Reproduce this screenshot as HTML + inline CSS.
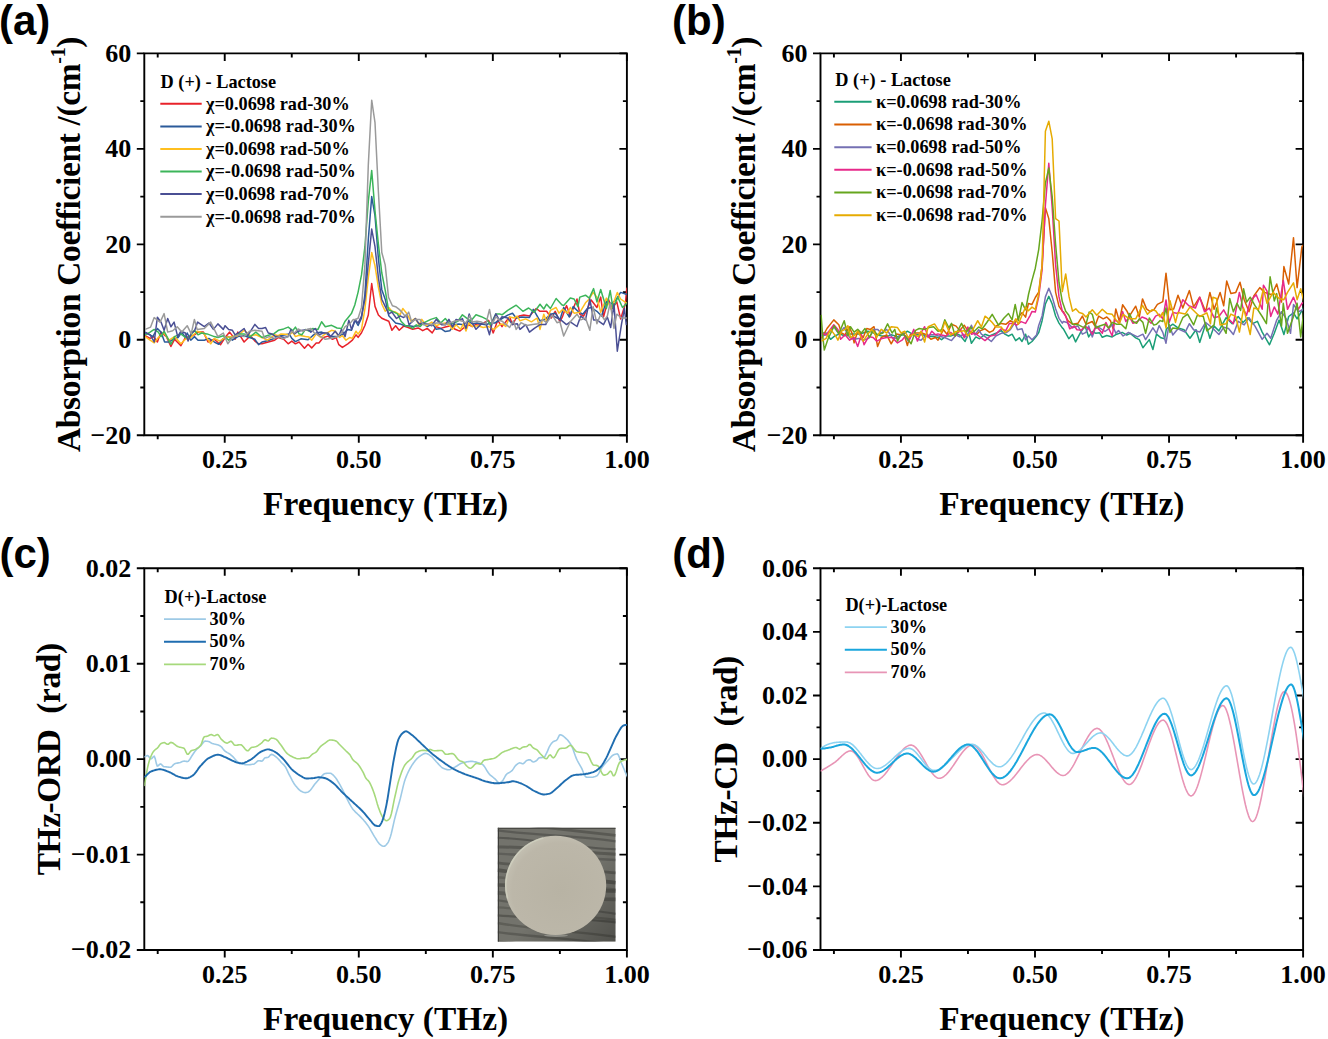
<!DOCTYPE html>
<html><head><meta charset="utf-8"><style>
html,body{margin:0;padding:0;background:#fff;}
svg{display:block;}
.tk{font-family:'Liberation Serif', serif;font-weight:bold;font-size:26px;fill:#000;}
.ttl{font-family:'Liberation Serif', serif;font-weight:bold;font-size:33.4px;fill:#000;white-space:pre;}
.lg{font-family:'Liberation Serif', serif;font-weight:bold;font-size:18.3px;fill:#000;white-space:pre;}
.pl{font-family:'Liberation Sans', sans-serif;font-weight:bold;font-size:42px;fill:#000;}
</style></head><body>
<svg width="1328" height="1039" viewBox="0 0 1328 1039">
<rect width="1328" height="1039" fill="#fff"/>
<defs>
<clipPath id="clipa"><rect x="144.3" y="53.4" width="482.59999999999997" height="381.90000000000003"/></clipPath>
<clipPath id="clipb"><rect x="820.5" y="53.4" width="482.5999999999999" height="381.90000000000003"/></clipPath>
<clipPath id="clipc"><rect x="144.3" y="568.3" width="482.59999999999997" height="381.70000000000005"/></clipPath>
<clipPath id="clipd"><rect x="820.5" y="568.3" width="482.5999999999999" height="381.70000000000005"/></clipPath>
</defs>
<text x="-1" y="35" class="pl">(a)</text>
<text x="672" y="35" class="pl">(b)</text>
<text x="-0.5" y="568" class="pl">(c)</text>
<text x="672.3" y="567.5" class="pl">(d)</text>
<path d="M144.3,53.4 H626.9 V435.3 H144.3 Z" fill="none" stroke="#000" stroke-width="1.9" stroke-linejoin="miter"/>
<path d="M157.71,435.3 v4.0 M157.71,53.4 v4.0 M224.73,435.3 v7.5 M224.73,53.4 v7.5 M291.76,435.3 v4.0 M291.76,53.4 v4.0 M358.79,435.3 v7.5 M358.79,53.4 v7.5 M425.82,435.3 v4.0 M425.82,53.4 v4.0 M492.84,435.3 v7.5 M492.84,53.4 v7.5 M559.87,435.3 v4.0 M559.87,53.4 v4.0 M626.90,435.3 v7.5 M626.90,53.4 v7.5 M144.3,53.40 h-7.5 M626.9,53.40 h-7.5 M144.3,148.88 h-7.5 M626.9,148.88 h-7.5 M144.3,244.35 h-7.5 M626.9,244.35 h-7.5 M144.3,339.82 h-7.5 M626.9,339.82 h-7.5 M144.3,435.30 h-7.5 M626.9,435.30 h-7.5 M144.3,101.14 h-4.0 M626.9,101.14 h-4.0 M144.3,196.61 h-4.0 M626.9,196.61 h-4.0 M144.3,292.09 h-4.0 M626.9,292.09 h-4.0 M144.3,387.56 h-4.0 M626.9,387.56 h-4.0" fill="none" stroke="#000" stroke-width="1.9"/>
<text x="131.3" y="61.7" text-anchor="end" class="tk">60</text>
<text x="131.3" y="157.2" text-anchor="end" class="tk">40</text>
<text x="131.3" y="252.7" text-anchor="end" class="tk">20</text>
<text x="131.3" y="348.1" text-anchor="end" class="tk">0</text>
<text x="131.3" y="443.6" text-anchor="end" class="tk">−20</text>
<text x="224.7" y="468.1" text-anchor="middle" class="tk">0.25</text>
<text x="358.8" y="468.1" text-anchor="middle" class="tk">0.50</text>
<text x="492.8" y="468.1" text-anchor="middle" class="tk">0.75</text>
<text x="626.9" y="468.1" text-anchor="middle" class="tk">1.00</text>
<text x="385.6" y="515.1" text-anchor="middle" class="ttl">Frequency (THz)</text>
<text transform="translate(79.6,244.3) rotate(-90)" x="0" y="0" text-anchor="middle" class="ttl" textLength="415.5" lengthAdjust="spacing">Absorption Coefficient /(cm<tspan font-size="20" dy="-14.5">-1</tspan><tspan dy="14.5">)</tspan></text>
<polyline points="145.2,335.7 150.1,338.4 153.7,336.6 157.4,342.0 161.0,332.1 166.4,336.6 170.9,346.5 174.5,339.3 180.9,345.6 185.4,337.5 189.9,336.6 194.4,334.8 198.0,332.1 203.4,332.1 208.0,342.0 214.3,339.3 220.6,344.7 225.1,337.5 229.6,332.1 235.1,339.3 237.8,332.1 244.1,342.0 250.4,335.7 254.9,341.1 258.6,343.8 262.0,343.8 268.3,342.0 274.7,340.2 278.3,337.5 283.7,339.3 288.2,343.8 291.8,341.1 295.4,343.8 299.1,342.0 304.5,348.3 308.1,344.3 311.7,347.9 316.2,342.9 318.9,342.9 323.4,337.5 328.0,336.1 332.5,339.3 336.1,337.5 338.8,344.7 342.4,347.4 347.8,343.8 352.4,340.2 356.0,334.8 358.1,337.4 361.5,332.7 364.9,325.5 368.3,315.0 371.7,283.5 375.0,306.4 378.4,315.0 381.8,318.3 385.2,319.8 388.8,321.2 391.9,330.2 395.6,325.7 399.2,330.2 403.7,326.1 408.2,327.5 412.7,329.3 418.2,327.9 422.7,330.7 427.2,328.4 432.2,332.9 436.2,326.6 440.7,328.4 445.3,327.0 450.7,325.7 455.2,329.3 459.7,331.1 464.2,327.5 468.8,324.8 472.4,326.6 476.9,323.9 481.4,323.9 488.6,320.3 493.2,332.9 497.7,320.3 502.0,326.6 505.8,321.8 509.6,317.0 512.5,324.6 516.2,318.0 519.1,316.1 523.8,315.1 529.5,316.1 536.2,308.5 540.0,311.3 546.6,311.3 551.4,318.0 555.2,311.3 559.9,321.8 562.7,316.1 566.5,305.6 570.3,316.1 577.0,299.0 579.8,314.2 583.6,316.1 587.4,308.5 591.2,300.0 596.9,307.5 600.7,297.1 603.5,317.0 608.3,299.0 612.1,308.5 616.8,301.9 620.6,318.9 625.4,303.8 626.8,288.6 628.7,285.7" fill="none" stroke="#e8222a" stroke-width="1.5" stroke-linejoin="round" clip-path="url(#clipa)"/>
<polyline points="145.2,333.0 150.1,334.8 152.8,336.6 157.4,328.5 161.0,332.1 164.6,342.0 169.1,342.0 172.7,339.3 178.1,337.5 181.8,332.1 185.4,337.5 187.2,333.0 190.8,340.2 194.4,336.6 198.0,340.2 204.3,340.2 208.9,338.4 214.3,342.0 218.8,344.3 223.3,338.4 228.7,336.6 232.4,340.2 237.8,336.6 244.1,335.7 249.5,337.5 254.9,339.3 258.6,344.7 262.0,342.0 267.4,340.7 274.7,338.4 280.1,335.7 285.5,334.8 289.1,333.9 291.8,338.4 295.4,341.6 300.9,338.8 308.1,339.7 312.6,335.7 316.2,333.0 321.6,332.1 327.1,333.9 330.7,336.6 334.3,336.6 337.9,336.6 343.3,333.9 347.8,329.4 351.5,330.3 355.1,320.3 358.1,325.5 361.5,318.3 364.9,294.5 368.3,239.6 371.7,196.6 375.0,215.7 378.4,258.7 381.8,289.7 385.2,299.2 388.8,315.8 395.6,323.0 400.1,323.9 404.6,325.7 409.1,325.7 413.6,326.6 418.2,325.7 422.7,323.0 427.2,326.6 432.6,323.9 436.2,329.3 440.7,328.4 445.3,331.6 449.8,330.7 454.3,324.8 458.8,323.9 463.3,324.8 467.9,321.2 472.4,323.9 476.9,323.0 481.4,323.9 485.9,324.8 490.4,323.0 495.0,323.0 502.0,318.5 507.7,315.1 512.5,313.2 516.2,318.0 521.9,317.0 529.5,317.5 533.3,309.4 540.0,320.8 545.7,318.9 550.4,314.2 555.2,313.2 559.9,319.9 563.7,307.5 569.4,317.0 573.2,306.6 577.9,311.3 582.7,314.2 587.4,308.5 591.2,307.5 596.9,311.3 601.6,316.1 606.4,300.9 611.1,303.8 615.9,300.0 620.6,292.4 626.3,294.3 628.7,294.3" fill="none" stroke="#2b5a9a" stroke-width="1.5" stroke-linejoin="round" clip-path="url(#clipa)"/>
<polyline points="145.2,336.6 150.1,340.2 154.2,342.9 158.3,337.5 164.1,333.0 169.1,340.2 174.5,336.6 180.9,343.8 185.4,339.3 190.8,337.5 197.1,331.2 203.4,333.0 210.7,343.8 214.3,338.4 219.7,341.1 225.1,337.5 232.4,336.6 237.8,335.7 244.1,330.3 250.4,335.7 255.9,334.8 262.0,337.5 267.4,340.2 274.7,334.8 278.3,335.7 281.0,333.9 285.5,334.3 289.1,334.8 292.7,332.1 295.4,336.6 299.1,335.2 305.4,336.6 309.0,337.0 311.7,340.2 316.2,333.9 320.7,337.5 325.3,333.9 331.6,330.3 335.2,331.2 339.7,337.5 342.4,335.7 346.0,340.2 349.7,337.5 352.4,338.4 356.0,331.2 358.1,334.1 361.5,329.3 364.9,308.8 368.3,277.8 371.7,252.5 375.0,265.8 378.4,287.3 381.8,304.0 385.2,311.2 388.8,307.6 391.9,311.2 395.6,312.1 400.1,314.8 402.8,308.5 406.4,313.0 410.9,321.2 415.4,318.5 419.1,324.8 421.8,319.4 426.3,325.7 431.7,322.1 436.2,325.7 440.7,323.9 445.3,323.0 449.8,325.7 452.5,329.3 456.1,324.8 460.6,329.3 463.3,323.9 466.0,331.1 468.8,323.0 472.4,326.6 477.8,325.7 483.2,327.5 488.6,326.6 494.1,329.3 499.5,324.8 502.0,323.9 505.8,326.5 509.6,317.0 514.3,318.0 517.2,316.1 520.0,320.8 525.7,318.9 531.4,321.8 537.1,318.0 540.0,329.4 543.8,314.2 546.6,321.8 550.4,310.4 556.1,307.5 558.9,313.2 562.7,309.4 567.5,313.2 570.3,307.5 574.1,313.2 579.8,312.3 585.5,302.8 589.3,299.0 593.1,292.4 596.9,297.1 600.7,312.3 606.4,298.1 611.1,309.4 617.3,292.4 620.6,299.0 626.3,302.8 628.7,303.8" fill="none" stroke="#ffbf1f" stroke-width="1.5" stroke-linejoin="round" clip-path="url(#clipa)"/>
<polyline points="145.2,334.8 150.1,332.1 154.2,329.4 158.3,332.1 161.0,336.6 164.1,331.2 170.9,344.3 174.5,336.6 180.9,333.9 185.4,337.5 189.0,337.5 194.4,330.3 198.0,334.8 201.6,333.0 207.1,333.9 214.3,336.6 217.9,337.5 223.3,335.7 228.7,340.2 232.4,337.5 237.8,333.9 244.1,333.9 250.4,336.6 255.9,332.1 262.0,337.5 268.3,335.2 273.7,333.9 278.3,330.3 283.7,328.9 288.2,327.1 292.7,330.7 295.4,327.1 299.1,333.9 301.8,334.8 305.4,329.4 309.0,331.2 312.6,328.5 318.0,329.4 321.6,321.7 325.3,326.7 331.6,325.3 337.0,328.0 341.5,328.5 345.1,321.2 348.8,316.7 351.4,313.6 354.8,305.0 358.1,292.1 361.5,274.9 364.9,246.7 368.3,201.4 371.7,170.4 375.0,210.9 378.4,244.3 381.8,273.0 385.2,290.2 388.5,309.8 391.9,311.2 397.4,313.9 401.0,321.2 405.5,325.7 409.1,326.1 412.7,328.4 416.3,324.8 420.0,326.6 423.6,323.0 427.2,321.2 430.8,319.4 436.2,317.6 440.7,323.0 445.3,318.5 449.8,323.9 454.3,323.0 457.9,321.2 462.4,314.8 466.0,317.6 470.6,321.2 476.0,314.8 481.4,316.7 486.8,319.4 490.4,324.8 495.9,313.9 499.5,313.9 502.0,314.8 507.7,310.4 516.2,305.2 522.9,311.3 528.6,308.0 534.3,312.3 540.0,304.2 543.8,309.0 546.6,304.2 550.4,308.5 556.1,298.5 561.8,304.7 563.7,305.6 570.3,298.1 574.1,299.0 577.9,306.6 579.8,297.1 585.5,295.2 589.3,298.1 593.6,288.6 596.9,301.9 600.7,289.5 606.4,308.5 610.2,290.5 613.0,308.5 617.8,297.1 622.5,307.5 626.3,303.8 628.7,301.9" fill="none" stroke="#3cb55a" stroke-width="1.5" stroke-linejoin="round" clip-path="url(#clipa)"/>
<polyline points="145.2,332.1 150.1,334.8 154.2,342.0 157.4,317.2 161.0,322.1 164.1,330.3 167.7,318.5 170.9,326.7 174.1,322.1 177.7,336.6 180.9,331.2 185.4,333.0 188.1,341.1 191.2,333.0 194.4,331.2 197.6,322.1 204.3,326.7 208.9,323.0 213.4,329.4 217.9,323.9 223.3,329.4 225.1,325.7 228.7,329.4 232.4,330.3 235.1,334.8 239.6,332.1 244.1,328.5 247.7,335.7 254.9,324.4 258.6,328.5 262.0,328.5 265.6,327.6 268.3,333.0 271.9,333.9 275.6,336.6 280.1,336.6 284.6,337.5 288.2,336.6 290.9,329.4 294.5,333.9 298.1,331.2 302.7,330.3 308.1,329.4 310.8,332.1 315.3,328.5 318.9,334.8 323.4,333.0 328.0,333.0 330.7,336.6 335.2,331.2 338.8,335.7 341.5,329.4 345.1,336.6 348.8,320.3 351.5,329.4 355.1,319.4 358.1,323.1 361.5,316.0 364.9,299.2 368.3,263.4 371.7,229.1 375.0,246.7 378.4,277.8 381.8,299.2 385.2,306.4 388.8,313.9 391.9,312.1 396.5,318.5 400.1,315.8 403.7,317.6 406.4,314.8 409.1,324.8 415.4,318.5 419.1,323.9 422.7,323.0 427.2,323.9 431.7,325.7 436.2,319.4 441.6,324.8 445.3,324.8 448.9,319.4 452.5,326.6 456.1,319.4 459.7,320.3 462.4,318.5 466.0,328.4 469.2,313.9 472.4,323.0 476.0,329.3 481.4,323.9 485.9,323.0 489.5,334.7 492.3,322.1 495.9,313.9 499.5,320.3 502.0,316.7 507.7,318.0 512.5,324.6 517.2,323.7 520.0,329.4 525.7,324.6 529.5,332.2 534.3,328.4 540.0,324.6 545.7,324.6 550.4,314.2 555.2,317.0 560.8,319.9 566.5,324.6 570.3,321.8 577.0,326.5 580.8,316.1 585.5,319.9 589.8,299.0 593.6,319.9 596.9,319.9 603.5,324.6 607.3,317.0 610.7,327.5 614.0,303.8 617.3,351.2 621.6,323.7 624.4,308.5 626.3,324.6 628.7,319.9" fill="none" stroke="#4a4f94" stroke-width="1.5" stroke-linejoin="round" clip-path="url(#clipa)"/>
<polyline points="145.2,329.4 150.6,327.1 154.2,317.6 160.1,322.1 164.1,313.6 167.7,332.1 172.7,330.7 177.2,326.7 181.8,332.1 187.2,325.7 191.2,333.9 194.4,319.4 197.1,329.4 204.3,328.5 210.7,322.1 214.3,329.4 217.9,336.6 223.3,333.0 227.8,343.8 232.4,337.5 237.8,334.8 244.1,336.6 249.5,331.2 254.9,330.3 262.0,331.2 264.7,338.4 269.2,336.6 274.7,338.4 279.2,336.6 282.8,338.8 288.2,336.6 291.8,331.2 294.5,333.0 298.1,328.9 302.7,331.2 307.2,329.4 310.8,328.5 314.4,333.0 318.0,334.8 325.3,339.3 329.8,338.4 334.3,337.5 337.9,336.6 341.5,333.0 345.1,326.7 349.7,323.9 353.3,319.4 354.8,319.7 358.1,318.3 361.5,307.4 364.9,264.9 368.3,165.1 371.7,100.2 375.0,122.6 378.4,191.8 381.8,252.5 385.2,264.9 388.5,297.3 392.4,305.8 395.6,306.7 399.2,309.4 401.9,312.1 405.5,316.7 408.7,312.1 411.8,322.1 415.4,319.4 420.0,319.4 423.6,324.8 427.2,323.9 431.7,324.8 436.2,323.0 440.7,323.0 445.3,324.8 449.8,323.0 454.3,321.2 458.8,320.3 462.4,321.2 466.0,323.0 469.7,315.8 472.4,322.1 476.9,321.2 481.4,322.1 485.9,323.9 489.5,309.4 492.3,323.9 495.9,316.7 499.5,320.3 502.0,321.2 509.6,327.5 513.4,320.8 516.2,329.4 521.0,322.7 526.7,325.6 532.4,324.6 538.1,323.7 542.8,319.9 546.6,322.7 552.3,315.1 557.0,322.7 559.9,321.8 563.7,336.0 570.3,321.8 577.0,314.2 580.8,319.9 585.5,318.0 589.8,330.3 593.1,306.6 596.9,323.7 600.7,314.2 604.5,319.9 607.3,316.1 610.2,302.8 614.0,328.4 616.8,314.2 621.6,318.0 626.3,318.0 628.7,318.0" fill="none" stroke="#9a9a9a" stroke-width="1.5" stroke-linejoin="round" clip-path="url(#clipa)"/>
<text x="160.6" y="87.5" class="lg">D (+) - Lactose</text>
<line x1="160.3" y1="103.8" x2="201.7" y2="103.8" stroke="#e8222a" stroke-width="2"/>
<text x="206.0" y="109.7" class="lg">χ=0.0698 rad-30%</text>
<line x1="160.3" y1="126.4" x2="201.7" y2="126.4" stroke="#2b5a9a" stroke-width="2"/>
<text x="206.0" y="132.3" class="lg">χ=-0.0698 rad-30%</text>
<line x1="160.3" y1="149.0" x2="201.7" y2="149.0" stroke="#ffbf1f" stroke-width="2"/>
<text x="206.0" y="154.9" class="lg">χ=0.0698 rad-50%</text>
<line x1="160.3" y1="171.5" x2="201.7" y2="171.5" stroke="#3cb55a" stroke-width="2"/>
<text x="206.0" y="177.4" class="lg">χ=-0.0698 rad-50%</text>
<line x1="160.3" y1="194.1" x2="201.7" y2="194.1" stroke="#4a4f94" stroke-width="2"/>
<text x="206.0" y="200.0" class="lg">χ=0.0698 rad-70%</text>
<line x1="160.3" y1="216.7" x2="201.7" y2="216.7" stroke="#9a9a9a" stroke-width="2"/>
<text x="206.0" y="222.6" class="lg">χ=-0.0698 rad-70%</text>
<path d="M820.5,53.4 H1303.1 V435.3 H820.5 Z" fill="none" stroke="#000" stroke-width="1.9" stroke-linejoin="miter"/>
<path d="M833.91,435.3 v4.0 M833.91,53.4 v4.0 M900.93,435.3 v7.5 M900.93,53.4 v7.5 M967.96,435.3 v4.0 M967.96,53.4 v4.0 M1034.99,435.3 v7.5 M1034.99,53.4 v7.5 M1102.02,435.3 v4.0 M1102.02,53.4 v4.0 M1169.04,435.3 v7.5 M1169.04,53.4 v7.5 M1236.07,435.3 v4.0 M1236.07,53.4 v4.0 M1303.10,435.3 v7.5 M1303.10,53.4 v7.5 M820.5,53.40 h-7.5 M1303.1,53.40 h-7.5 M820.5,148.88 h-7.5 M1303.1,148.88 h-7.5 M820.5,244.35 h-7.5 M1303.1,244.35 h-7.5 M820.5,339.82 h-7.5 M1303.1,339.82 h-7.5 M820.5,435.30 h-7.5 M1303.1,435.30 h-7.5 M820.5,101.14 h-4.0 M1303.1,101.14 h-4.0 M820.5,196.61 h-4.0 M1303.1,196.61 h-4.0 M820.5,292.09 h-4.0 M1303.1,292.09 h-4.0 M820.5,387.56 h-4.0 M1303.1,387.56 h-4.0" fill="none" stroke="#000" stroke-width="1.9"/>
<text x="807.5" y="61.7" text-anchor="end" class="tk">60</text>
<text x="807.5" y="157.2" text-anchor="end" class="tk">40</text>
<text x="807.5" y="252.7" text-anchor="end" class="tk">20</text>
<text x="807.5" y="348.1" text-anchor="end" class="tk">0</text>
<text x="807.5" y="443.6" text-anchor="end" class="tk">−20</text>
<text x="900.9" y="468.1" text-anchor="middle" class="tk">0.25</text>
<text x="1035.0" y="468.1" text-anchor="middle" class="tk">0.50</text>
<text x="1169.0" y="468.1" text-anchor="middle" class="tk">0.75</text>
<text x="1303.1" y="468.1" text-anchor="middle" class="tk">1.00</text>
<text x="1061.8" y="515.1" text-anchor="middle" class="ttl">Frequency (THz)</text>
<text transform="translate(755.3,244.3) rotate(-90)" x="0" y="0" text-anchor="middle" class="ttl" textLength="415.5" lengthAdjust="spacing">Absorption Coefficient /(cm<tspan font-size="20" dy="-14.5">-1</tspan><tspan dy="14.5">)</tspan></text>
<polyline points="821.6,333.0 826.1,333.0 830.6,339.3 835.1,335.7 839.7,333.9 844.2,335.7 849.6,333.9 854.1,333.9 858.6,333.9 863.2,333.0 867.7,331.2 872.2,332.1 876.7,334.8 881.2,335.7 886.7,336.6 891.2,334.8 897.5,336.6 902.9,334.8 907.4,331.2 912.0,333.9 917.4,334.8 922.8,334.8 928.2,336.6 933.6,336.6 938.0,337.5 941.6,339.7 946.1,336.0 950.6,336.0 955.2,334.2 959.7,335.1 965.1,341.5 968.7,332.4 971.4,343.3 975.9,336.9 979.6,338.8 985.0,334.2 989.5,336.0 995.8,333.3 1001.2,330.6 1004.9,334.2 1008.5,336.0 1012.1,334.2 1015.7,340.6 1019.3,337.8 1022.0,341.5 1025.6,334.2 1028.4,344.2 1032.0,341.5 1036.5,336.0 1038.7,332.7 1042.1,320.7 1045.4,304.0 1048.8,296.4 1052.2,304.0 1055.6,316.0 1059.0,323.1 1062.3,327.9 1063.4,328.8 1068.8,338.7 1072.5,334.6 1075.6,341.9 1080.6,332.4 1085.1,326.0 1088.7,336.9 1092.3,331.5 1095.9,333.3 1099.6,332.8 1102.3,337.3 1106.8,335.5 1112.2,336.9 1116.7,334.2 1122.2,332.4 1126.7,335.1 1130.3,333.3 1135.7,337.8 1139.3,339.6 1142.9,347.7 1149.3,339.6 1152.9,349.5 1156.5,334.2 1161.0,337.8 1164.6,338.7 1166.4,328.8 1172.8,324.2 1178.0,327.9 1184.0,329.7 1190.0,338.2 1196.0,329.7 1199.7,342.4 1205.7,323.7 1209.9,338.2 1214.1,326.1 1218.9,330.9 1226.1,317.7 1232.2,323.7 1238.2,316.5 1243.0,322.5 1247.8,317.7 1252.6,323.7 1257.4,321.3 1262.2,332.1 1269.5,344.8 1274.3,333.3 1279.1,320.1 1283.9,334.5 1288.7,316.5 1293.5,312.9 1297.1,318.9 1304.0,306.9 1305.6,305.7" fill="none" stroke="#1b9e77" stroke-width="1.5" stroke-linejoin="round" clip-path="url(#clipb)"/>
<polyline points="821.6,338.4 827.0,328.5 833.8,319.9 838.8,324.8 841.5,333.0 845.1,334.8 849.2,326.7 852.3,333.9 854.1,342.9 857.7,331.2 863.2,337.5 866.8,328.5 870.4,329.4 874.0,326.7 877.6,346.5 881.2,337.5 886.7,334.8 891.2,343.8 896.6,333.9 900.2,334.8 903.8,333.0 907.4,345.6 910.2,334.8 914.7,333.0 918.3,333.0 921.9,333.0 926.4,334.8 930.9,339.3 935.5,337.5 938.0,340.2 943.4,329.7 947.0,334.2 951.5,324.3 956.1,326.1 959.7,330.6 964.2,325.2 967.8,330.6 972.3,332.4 976.8,334.2 980.5,330.6 985.0,328.8 989.5,332.4 993.1,330.6 995.8,326.1 1001.2,323.4 1005.8,324.3 1010.3,320.7 1014.8,323.4 1018.4,317.1 1022.0,312.6 1025.6,317.1 1028.4,303.5 1032.0,304.4 1035.3,297.5 1038.7,292.1 1042.1,265.4 1045.4,207.6 1048.8,218.6 1052.2,252.0 1055.6,292.1 1059.0,306.4 1062.3,311.2 1063.4,311.6 1067.9,320.6 1072.5,324.2 1077.9,323.3 1082.4,316.1 1086.0,324.2 1092.3,321.5 1095.0,326.0 1098.7,316.1 1103.2,318.8 1106.8,317.0 1110.4,320.6 1113.1,328.8 1115.8,308.9 1119.4,321.5 1122.6,304.8 1126.7,310.7 1129.4,316.1 1135.7,306.2 1139.3,317.0 1142.5,298.9 1146.5,308.9 1150.2,311.6 1153.8,309.8 1157.4,304.4 1162.8,301.7 1166.0,273.2 1170.0,309.8 1173.7,308.9 1178.0,295.3 1182.8,308.1 1189.4,290.6 1193.6,306.9 1199.7,297.2 1205.7,311.7 1209.9,292.4 1214.1,309.3 1220.1,292.4 1223.7,305.7 1226.7,281.0 1230.9,293.6 1235.8,292.4 1240.0,282.2 1244.2,299.7 1249.0,311.7 1253.8,296.0 1259.8,287.6 1264.6,292.4 1271.9,294.8 1276.7,284.0 1281.5,302.1 1283.9,266.6 1288.7,284.0 1293.5,237.7 1297.1,287.6 1301.9,246.7 1305.6,243.1" fill="none" stroke="#d95f02" stroke-width="1.5" stroke-linejoin="round" clip-path="url(#clipb)"/>
<polyline points="821.6,335.7 827.0,334.8 833.8,326.7 838.8,333.9 844.2,327.6 849.6,337.5 854.1,339.3 858.6,338.4 863.2,340.2 868.6,338.4 874.0,329.4 877.6,329.4 881.2,333.0 886.7,329.4 892.1,337.5 897.5,338.4 902.9,333.0 908.3,341.1 912.9,333.0 917.4,339.3 921.0,340.2 925.5,335.7 930.9,334.8 935.5,334.8 938.0,335.7 945.2,337.8 951.5,340.6 956.1,335.1 959.7,336.9 963.3,334.2 966.9,337.8 971.4,325.2 975.0,335.1 978.7,329.7 981.4,334.2 986.8,337.8 991.3,341.5 995.8,336.0 1001.2,333.3 1006.7,332.4 1010.3,329.7 1014.8,322.5 1017.5,329.7 1022.0,328.8 1025.6,339.7 1028.4,336.0 1032.0,339.7 1036.5,335.1 1038.7,325.5 1042.1,316.0 1045.4,296.9 1048.8,288.3 1052.2,296.9 1055.6,308.8 1059.0,318.3 1062.3,323.1 1063.4,321.5 1067.0,322.4 1072.5,327.9 1077.9,326.0 1082.4,334.2 1086.0,332.4 1088.7,326.0 1092.3,336.9 1095.9,326.0 1099.6,327.9 1105.0,331.5 1108.6,328.8 1112.2,324.2 1115.8,333.3 1118.5,330.6 1123.1,336.0 1128.5,332.4 1133.9,335.1 1137.5,336.9 1142.9,334.2 1145.6,339.6 1152.9,327.9 1156.5,333.3 1159.2,325.6 1162.8,332.4 1166.0,343.2 1169.1,324.2 1172.8,335.1 1178.0,328.8 1185.2,332.1 1189.4,323.7 1193.6,329.7 1199.7,332.1 1205.7,322.5 1211.7,327.3 1218.9,334.5 1223.7,327.3 1228.5,328.5 1233.4,334.5 1238.2,321.3 1244.2,324.9 1249.0,317.7 1255.0,326.1 1262.2,339.4 1267.0,333.3 1270.7,338.2 1276.7,320.1 1281.5,311.7 1286.3,318.9 1290.5,333.3 1293.5,304.5 1298.3,311.7 1304.0,309.3 1305.6,308.1" fill="none" stroke="#7570b3" stroke-width="1.5" stroke-linejoin="round" clip-path="url(#clipb)"/>
<polyline points="821.6,333.0 826.1,334.8 829.7,330.3 833.8,324.8 837.9,329.4 840.6,339.3 845.1,334.8 849.6,340.2 854.1,337.5 857.7,346.5 861.4,334.8 864.1,344.7 868.6,336.6 873.1,337.5 876.7,341.1 882.1,338.4 886.7,337.5 892.1,337.5 897.5,342.9 902.0,340.2 905.6,335.7 909.2,340.2 913.8,329.4 917.4,341.1 921.0,333.0 924.6,326.7 928.2,337.5 931.8,331.2 935.5,334.8 938.0,333.9 941.6,335.1 946.1,336.0 950.6,332.4 955.2,336.0 960.6,329.7 964.2,337.8 967.8,327.0 971.4,334.2 975.0,333.3 978.7,336.0 985.0,340.6 990.4,336.0 994.9,335.1 1001.2,328.8 1005.8,330.6 1009.4,323.4 1013.9,323.4 1016.6,325.2 1021.1,321.6 1025.6,323.4 1030.2,315.3 1031.9,311.6 1035.3,312.0 1038.7,296.9 1042.1,269.7 1045.4,205.2 1048.8,163.2 1052.2,207.6 1055.6,264.9 1059.0,296.9 1062.3,311.2 1065.7,316.0 1069.7,328.8 1074.3,326.0 1077.0,329.7 1081.5,330.1 1085.1,326.0 1088.7,328.8 1092.3,334.2 1095.0,327.9 1097.8,327.9 1102.3,333.3 1105.9,322.4 1112.2,336.0 1114.9,319.7 1119.4,323.3 1122.6,311.6 1125.8,321.5 1129.4,317.0 1133.0,323.3 1137.5,321.5 1142.0,317.0 1146.5,318.8 1151.1,323.3 1155.6,316.1 1159.2,314.3 1162.8,318.8 1166.0,299.9 1169.1,322.4 1172.8,312.5 1178.0,313.4 1182.8,299.7 1188.8,305.7 1195.4,308.1 1199.7,297.2 1204.5,311.7 1209.3,308.1 1214.1,317.7 1218.9,316.5 1223.7,309.9 1228.5,318.9 1233.4,323.7 1239.4,292.4 1243.0,308.1 1246.6,315.3 1250.2,300.9 1256.2,294.8 1262.2,309.3 1263.4,285.2 1267.0,291.2 1270.7,316.5 1274.3,306.9 1277.9,314.1 1283.3,280.4 1287.5,309.3 1293.5,297.2 1298.3,309.3 1301.9,303.3 1305.6,302.1" fill="none" stroke="#e7298a" stroke-width="1.5" stroke-linejoin="round" clip-path="url(#clipb)"/>
<polyline points="821.1,314.9 822.5,333.9 824.3,350.1 827.9,339.3 834.2,325.7 838.8,333.9 844.2,320.8 847.8,335.7 850.5,326.7 854.1,332.1 857.7,329.4 861.4,333.0 865.0,328.5 869.5,337.5 873.1,330.3 877.6,334.8 883.0,333.0 887.6,323.9 892.1,333.0 894.8,329.4 897.5,341.1 902.0,333.0 906.5,337.5 911.1,343.8 915.6,330.3 919.2,328.5 924.6,329.4 929.1,327.6 933.6,326.7 938.0,331.2 941.6,329.7 944.8,319.8 948.8,327.9 951.5,323.4 955.2,336.0 961.5,323.4 966.0,332.4 970.5,327.0 974.1,331.5 978.7,327.0 982.3,328.8 986.8,322.5 992.2,314.4 998.5,325.2 1004.0,318.0 1008.5,313.5 1012.1,319.8 1015.2,304.4 1018.4,320.7 1022.0,302.6 1025.6,309.8 1028.6,294.0 1031.9,280.6 1035.3,268.2 1038.7,249.6 1042.1,220.5 1045.4,183.2 1048.8,168.0 1052.2,196.6 1055.6,244.3 1059.0,282.5 1062.3,301.6 1065.7,311.2 1068.8,315.2 1072.5,324.2 1077.9,324.7 1082.4,326.9 1085.1,327.9 1089.2,312.0 1092.3,314.3 1095.9,327.9 1099.6,326.0 1105.0,324.2 1108.6,327.9 1112.2,322.4 1116.7,324.2 1121.2,324.2 1125.8,328.8 1129.4,313.4 1133.0,321.5 1136.6,323.3 1139.3,318.8 1142.9,322.4 1145.6,333.3 1149.3,317.9 1153.8,325.1 1156.5,324.2 1160.1,320.6 1162.8,321.5 1166.0,308.0 1170.0,332.4 1172.8,327.9 1178.0,328.8 1182.8,317.7 1187.6,314.1 1193.6,324.9 1197.3,315.3 1203.3,316.5 1206.9,330.9 1214.1,324.9 1216.5,308.1 1222.5,326.1 1226.1,333.3 1229.7,298.5 1233.4,311.7 1237.0,303.3 1240.6,310.5 1243.6,288.8 1246.6,302.1 1250.2,297.2 1255.0,305.7 1262.2,316.5 1266.4,323.7 1270.1,276.8 1274.3,300.9 1276.7,293.6 1281.5,326.1 1283.3,303.3 1287.5,333.3 1293.5,316.5 1297.1,303.3 1300.7,336.9 1304.0,309.3 1305.6,308.1" fill="none" stroke="#66a61e" stroke-width="1.5" stroke-linejoin="round" clip-path="url(#clipb)"/>
<polyline points="821.6,341.1 826.1,338.4 830.6,329.4 836.1,336.6 837.9,340.2 841.5,331.2 845.1,329.4 847.8,325.7 850.5,337.5 854.1,335.7 857.7,331.2 863.2,341.1 868.6,333.0 872.2,329.4 876.7,337.5 881.2,329.4 886.7,333.0 891.2,326.7 897.5,327.6 901.1,333.0 904.7,331.2 908.3,337.5 913.8,333.9 918.3,336.6 921.0,331.2 924.6,342.0 928.2,326.7 934.5,323.9 938.0,329.4 941.6,332.4 944.8,321.6 950.6,335.1 956.1,331.5 960.6,331.5 964.2,330.6 967.8,336.0 972.3,330.6 977.7,320.7 981.4,327.0 985.0,316.2 988.6,318.9 992.2,322.5 995.8,327.0 1001.2,327.0 1004.9,332.4 1009.4,329.7 1015.7,318.9 1018.4,324.3 1022.0,315.3 1025.6,307.1 1028.4,310.7 1032.0,307.1 1035.3,309.3 1038.7,294.0 1042.1,265.4 1045.4,131.2 1048.8,121.2 1052.2,138.9 1055.6,218.6 1059.0,221.0 1062.3,291.6 1065.7,273.9 1069.1,296.9 1072.5,311.2 1075.8,308.8 1079.2,312.6 1082.4,313.4 1086.0,317.0 1092.3,309.8 1096.8,315.2 1102.3,309.3 1106.8,313.4 1112.2,314.3 1115.8,319.7 1119.4,323.3 1123.1,314.3 1129.4,318.8 1135.7,318.8 1142.5,305.3 1147.5,314.3 1152.0,309.8 1155.6,310.7 1160.1,317.0 1162.8,312.5 1166.0,327.9 1170.0,300.8 1175.5,322.4 1178.0,312.5 1185.2,314.1 1190.0,306.9 1193.6,310.5 1199.7,316.5 1206.9,312.9 1210.5,323.7 1212.9,297.2 1216.5,298.5 1220.1,324.9 1226.1,323.7 1230.9,314.1 1235.8,316.5 1239.4,332.1 1243.6,308.1 1250.2,334.5 1253.8,308.1 1258.6,309.3 1263.4,288.8 1267.0,303.3 1273.1,292.4 1279.1,298.5 1283.9,299.7 1287.5,292.4 1293.5,282.8 1297.1,299.7 1300.7,288.8 1304.0,302.1 1305.6,303.3" fill="none" stroke="#e6ab02" stroke-width="1.5" stroke-linejoin="round" clip-path="url(#clipb)"/>
<text x="835.3" y="86.0" class="lg">D (+) - Lactose</text>
<line x1="834.3" y1="101.8" x2="871.6" y2="101.8" stroke="#1b9e77" stroke-width="2"/>
<text x="876.0" y="107.7" class="lg">κ=0.0698 rad-30%</text>
<line x1="834.3" y1="124.5" x2="871.6" y2="124.5" stroke="#d95f02" stroke-width="2"/>
<text x="876.0" y="130.4" class="lg">κ=-0.0698 rad-30%</text>
<line x1="834.3" y1="147.2" x2="871.6" y2="147.2" stroke="#7570b3" stroke-width="2"/>
<text x="876.0" y="153.1" class="lg">κ=0.0698 rad-50%</text>
<line x1="834.3" y1="169.8" x2="871.6" y2="169.8" stroke="#e7298a" stroke-width="2"/>
<text x="876.0" y="175.7" class="lg">κ=-0.0698 rad-50%</text>
<line x1="834.3" y1="192.5" x2="871.6" y2="192.5" stroke="#66a61e" stroke-width="2"/>
<text x="876.0" y="198.4" class="lg">κ=-0.0698 rad-70%</text>
<line x1="834.3" y1="215.2" x2="871.6" y2="215.2" stroke="#e6ab02" stroke-width="2"/>
<text x="876.0" y="221.1" class="lg">κ=-0.0698 rad-70%</text>
<path d="M144.3,568.3 H626.9 V950.0 H144.3 Z" fill="none" stroke="#000" stroke-width="1.9" stroke-linejoin="miter"/>
<path d="M157.71,950.0 v4.0 M157.71,568.3 v4.0 M224.73,950.0 v7.5 M224.73,568.3 v7.5 M291.76,950.0 v4.0 M291.76,568.3 v4.0 M358.79,950.0 v7.5 M358.79,568.3 v7.5 M425.82,950.0 v4.0 M425.82,568.3 v4.0 M492.84,950.0 v7.5 M492.84,568.3 v7.5 M559.87,950.0 v4.0 M559.87,568.3 v4.0 M626.90,950.0 v7.5 M626.90,568.3 v7.5 M144.3,568.30 h-7.5 M626.9,568.30 h-7.5 M144.3,663.72 h-7.5 M626.9,663.72 h-7.5 M144.3,759.15 h-7.5 M626.9,759.15 h-7.5 M144.3,854.58 h-7.5 M626.9,854.58 h-7.5 M144.3,950.00 h-7.5 M626.9,950.00 h-7.5 M144.3,616.01 h-4.0 M626.9,616.01 h-4.0 M144.3,711.44 h-4.0 M626.9,711.44 h-4.0 M144.3,806.86 h-4.0 M626.9,806.86 h-4.0 M144.3,902.29 h-4.0 M626.9,902.29 h-4.0" fill="none" stroke="#000" stroke-width="1.9"/>
<text x="131.3" y="576.6" text-anchor="end" class="tk">0.02</text>
<text x="131.3" y="672.0" text-anchor="end" class="tk">0.01</text>
<text x="131.3" y="767.4" text-anchor="end" class="tk">0.00</text>
<text x="131.3" y="862.9" text-anchor="end" class="tk">−0.01</text>
<text x="131.3" y="958.3" text-anchor="end" class="tk">−0.02</text>
<text x="224.7" y="982.8" text-anchor="middle" class="tk">0.25</text>
<text x="358.8" y="982.8" text-anchor="middle" class="tk">0.50</text>
<text x="492.8" y="982.8" text-anchor="middle" class="tk">0.75</text>
<text x="626.9" y="982.8" text-anchor="middle" class="tk">1.00</text>
<text x="385.6" y="1029.8" text-anchor="middle" class="ttl">Frequency (THz)</text>
<text transform="translate(59.8,759.1) rotate(-90)" x="0" y="0" text-anchor="middle" class="ttl" textLength="232.5" lengthAdjust="spacing">THz-ORD  (rad)</text>
<polyline points="144.3,757.2 145.3,756.5 146.3,755.9 147.3,755.5 148.3,756.0 149.3,757.3 150.3,758.6 151.3,758.8 152.3,757.9 153.3,756.7 154.3,756.2 155.3,758.9 156.3,763.4 157.3,766.1 158.3,765.7 159.3,764.6 160.3,763.9 161.3,764.3 162.3,765.4 163.3,766.4 164.3,766.7 165.3,766.8 166.3,766.9 167.3,767.0 168.3,767.1 169.3,767.2 170.3,767.3 171.3,767.0 172.3,766.0 173.3,764.9 174.3,764.0 175.3,763.6 176.3,763.3 177.3,763.1 178.3,762.9 179.3,762.7 180.3,762.4 181.3,762.0 182.3,761.6 183.3,761.3 184.3,761.1 185.3,761.2 186.3,761.4 187.3,761.6 188.3,761.3 189.3,760.1 190.3,758.5 191.3,756.8 192.3,755.3 193.3,753.8 194.3,752.3 195.3,750.9 196.3,749.7 197.3,748.7 198.3,747.8 199.3,747.0 200.3,746.2 201.3,745.1 202.3,743.8 203.3,742.5 204.3,741.5 205.3,741.1 206.3,741.2 207.3,741.3 208.3,741.5 209.3,741.8 210.3,742.4 211.3,743.0 212.3,743.4 213.3,743.7 214.3,744.0 215.3,744.2 216.3,744.5 217.3,744.8 218.3,745.1 219.3,745.5 220.3,746.0 221.3,746.8 222.3,747.9 223.3,749.2 224.3,750.4 225.3,751.4 226.3,752.0 227.3,752.6 228.3,753.1 229.3,753.7 230.3,754.4 231.3,755.3 232.3,756.2 233.3,757.1 234.3,758.2 235.3,759.4 236.3,760.6 237.3,761.6 238.3,762.3 239.3,762.8 240.3,763.3 241.3,763.6 242.3,763.9 243.3,764.1 244.3,764.4 245.3,764.6 246.3,764.7 247.3,764.8 248.3,764.8 249.3,764.7 250.3,764.6 251.3,764.5 252.3,764.3 253.3,764.2 254.3,763.9 255.3,763.2 256.3,762.2 257.3,761.3 258.3,760.7 259.3,760.7 260.3,760.9 261.3,761.1 262.3,761.0 263.3,759.9 264.3,758.4 265.3,757.7 266.3,757.6 267.3,757.5 268.3,757.2 269.3,756.3 270.3,755.0 271.3,754.4 272.3,754.6 273.3,755.0 274.3,755.6 275.3,756.4 276.3,757.2 277.3,758.0 278.3,759.0 279.3,760.1 280.3,761.3 281.3,762.5 282.3,763.5 283.3,764.4 284.3,765.4 285.3,766.7 286.3,768.5 287.3,770.7 288.3,772.8 289.3,774.8 290.3,776.7 291.3,778.7 292.3,780.6 293.3,782.4 294.3,784.0 295.3,785.4 296.3,786.6 297.3,787.8 298.3,788.9 299.3,789.9 300.3,790.7 301.3,791.3 302.3,791.8 303.3,792.2 304.3,792.5 305.3,792.6 306.3,792.5 307.3,792.2 308.3,791.9 309.3,791.3 310.3,790.3 311.3,789.0 312.3,787.6 313.3,786.2 314.3,784.8 315.3,783.6 316.3,782.4 317.3,781.3 318.3,780.1 319.3,779.0 320.3,778.0 321.3,776.8 322.3,775.6 323.3,774.5 324.3,773.8 325.3,773.5 326.3,773.4 327.3,773.3 328.3,773.2 329.3,773.2 330.3,773.2 331.3,773.6 332.3,774.3 333.3,775.2 334.3,776.2 335.3,777.4 336.3,778.8 337.3,780.3 338.3,782.0 339.3,783.7 340.3,785.4 341.3,787.3 342.3,789.2 343.3,791.3 344.3,793.4 345.3,795.5 346.3,797.6 347.3,799.5 348.3,801.4 349.3,803.3 350.3,805.2 351.3,806.9 352.3,808.4 353.3,809.7 354.3,810.8 355.3,811.9 356.3,812.8 357.3,813.7 358.3,814.7 359.3,815.6 360.3,816.6 361.3,817.6 362.3,818.7 363.3,819.8 364.3,821.0 365.3,822.1 366.3,823.4 367.3,824.7 368.3,826.1 369.3,827.7 370.3,829.4 371.3,831.2 372.3,832.9 373.3,834.7 374.3,836.4 375.3,837.9 376.3,839.5 377.3,841.1 378.3,842.6 379.3,843.8 380.3,844.6 381.3,845.4 382.3,846.0 383.3,846.3 384.3,846.3 385.3,845.8 386.3,844.8 387.3,843.6 388.3,842.1 389.3,839.8 390.3,837.0 391.3,833.5 392.3,829.3 393.3,824.8 394.3,820.4 395.3,816.5 396.3,812.8 397.3,809.3 398.3,805.8 399.3,802.2 400.3,798.5 401.3,794.4 402.3,790.1 403.3,785.9 404.3,782.1 405.3,779.0 406.3,776.4 407.3,774.0 408.3,771.8 409.3,769.8 410.3,768.0 411.3,766.3 412.3,764.7 413.3,763.3 414.3,761.9 415.3,760.6 416.3,759.4 417.3,758.4 418.3,757.5 419.3,756.7 420.3,756.0 421.3,755.2 422.3,754.6 423.3,754.0 424.3,753.6 425.3,753.4 426.3,753.5 427.3,753.7 428.3,754.2 429.3,754.9 430.3,755.6 431.3,756.4 432.3,757.2 433.3,758.2 434.3,759.4 435.3,760.6 436.3,761.8 437.3,762.8 438.3,763.9 439.3,765.0 440.3,766.0 441.3,767.0 442.3,767.8 443.3,768.3 444.3,768.7 445.3,769.1 446.3,769.4 447.3,769.6 448.3,769.7 449.3,769.7 450.3,769.4 451.3,769.0 452.3,768.5 453.3,768.0 454.3,767.4 455.3,766.9 456.3,766.3 457.3,765.7 458.3,765.0 459.3,764.4 460.3,763.8 461.3,763.3 462.3,762.9 463.3,762.6 464.3,762.4 465.3,762.2 466.3,761.9 467.3,761.8 468.3,761.6 469.3,761.5 470.3,761.4 471.3,761.4 472.3,761.4 473.3,761.5 474.3,761.7 475.3,761.9 476.3,762.1 477.3,762.4 478.3,762.7 479.3,763.1 480.3,763.5 481.3,763.9 482.3,764.3 483.3,765.1 484.3,766.4 485.3,767.9 486.3,769.6 487.3,771.3 488.3,772.8 489.3,774.1 490.3,775.1 491.3,775.9 492.3,776.7 493.3,777.5 494.3,778.3 495.3,779.2 496.3,780.3 497.3,781.5 498.3,782.4 499.3,782.8 500.3,782.5 501.3,781.9 502.3,781.1 503.3,779.7 504.3,777.9 505.3,776.0 506.3,774.5 507.3,773.6 508.3,773.0 509.3,772.5 510.3,771.9 511.3,771.2 512.3,770.3 513.3,768.9 514.3,767.3 515.3,765.9 516.3,764.9 517.3,764.1 518.3,763.4 519.3,762.9 520.3,763.0 521.3,763.3 522.3,763.7 523.3,763.7 524.3,762.9 525.3,761.7 526.3,760.7 527.3,760.3 528.3,759.9 529.3,759.7 530.3,759.9 531.3,760.7 532.3,761.6 533.3,762.0 534.3,761.8 535.3,761.3 536.3,760.7 537.3,759.8 538.3,758.6 539.3,757.7 540.3,757.6 541.3,757.6 542.3,757.5 543.3,757.5 544.3,757.2 545.3,755.7 546.3,753.7 547.3,751.7 548.3,749.1 549.3,746.8 550.3,745.1 551.3,743.6 552.3,742.5 553.3,741.6 554.3,741.2 555.3,740.8 556.3,740.4 557.3,739.5 558.3,737.4 559.3,735.3 560.3,734.7 561.3,735.0 562.3,735.5 563.3,736.1 564.3,737.0 565.3,737.9 566.3,738.8 567.3,739.8 568.3,740.9 569.3,742.2 570.3,743.6 571.3,745.3 572.3,747.4 573.3,750.0 574.3,752.9 575.3,755.8 576.3,758.4 577.3,760.5 578.3,762.4 579.3,764.1 580.3,765.8 581.3,767.6 582.3,769.7 583.3,772.2 584.3,774.5 585.3,776.3 586.3,777.2 587.3,777.3 588.3,777.3 589.3,777.3 590.3,777.3 591.3,777.3 592.3,777.2 593.3,777.1 594.3,776.8 595.3,776.5 596.3,776.1 597.3,775.5 598.3,774.1 599.3,772.3 600.3,770.3 601.3,768.5 602.3,767.0 603.3,765.7 604.3,764.5 605.3,763.4 606.3,762.3 607.3,761.2 608.3,760.1 609.3,758.9 610.3,757.7 611.3,756.6 612.3,755.7 613.3,755.0 614.3,754.6 615.3,754.2 616.3,754.0 617.3,753.9 618.3,754.9 619.3,757.3 620.3,760.2 621.3,762.7 622.3,765.0 623.3,767.4 624.3,769.8 625.3,772.1 626.3,774.4 627.3,776.5 628.0,778.0" fill="none" stroke="#9ecae6" stroke-width="1.6" stroke-linejoin="round" clip-path="url(#clipc)"/>
<polyline points="144.3,786.0 145.3,780.4 146.3,774.4 147.3,768.9 148.3,764.5 149.3,760.8 150.3,757.9 151.3,755.5 152.3,753.4 153.3,751.7 154.3,750.5 155.3,749.7 156.3,748.9 157.3,748.1 158.3,747.0 159.3,745.5 160.3,744.1 161.3,743.4 162.3,743.0 163.3,742.7 164.3,742.6 165.3,743.0 166.3,743.8 167.3,744.3 168.3,744.3 169.3,743.4 170.3,742.6 171.3,742.4 172.3,742.7 173.3,743.3 174.3,744.1 175.3,744.9 176.3,745.7 177.3,746.3 178.3,746.8 179.3,747.1 180.3,747.3 181.3,747.5 182.3,747.7 183.3,748.0 184.3,748.5 185.3,750.4 186.3,752.7 187.3,754.3 188.3,754.1 189.3,753.0 190.3,751.6 191.3,750.7 192.3,750.3 193.3,750.1 194.3,749.8 195.3,749.4 196.3,748.9 197.3,748.3 198.3,747.6 199.3,746.8 200.3,745.8 201.3,744.2 202.3,741.2 203.3,738.2 204.3,736.7 205.3,736.5 206.3,736.4 207.3,736.2 208.3,735.8 209.3,735.2 210.3,734.7 211.3,734.5 212.3,734.9 213.3,735.5 214.3,735.8 215.3,735.5 216.3,734.9 217.3,734.5 218.3,735.0 219.3,736.3 220.3,737.9 221.3,739.3 222.3,740.2 223.3,741.1 224.3,742.0 225.3,742.6 226.3,743.0 227.3,743.1 228.3,742.6 229.3,742.0 230.3,741.4 231.3,741.4 232.3,742.3 233.3,743.7 234.3,744.9 235.3,745.3 236.3,745.2 237.3,745.1 238.3,744.9 239.3,744.8 240.3,744.7 241.3,744.9 242.3,745.7 243.3,746.8 244.3,748.0 245.3,749.2 246.3,750.2 247.3,750.7 248.3,750.6 249.3,749.6 250.3,748.4 251.3,747.6 252.3,747.3 253.3,747.2 254.3,747.0 255.3,746.8 256.3,746.5 257.3,746.1 258.3,745.4 259.3,744.7 260.3,744.0 261.3,743.2 262.3,742.3 263.3,741.1 264.3,740.1 265.3,739.8 266.3,740.3 267.3,740.8 268.3,741.0 269.3,740.1 270.3,738.8 271.3,738.1 272.3,738.2 273.3,738.3 274.3,738.6 275.3,738.9 276.3,739.4 277.3,740.3 278.3,741.6 279.3,742.9 280.3,744.2 281.3,745.5 282.3,747.0 283.3,748.5 284.3,750.0 285.3,751.4 286.3,752.6 287.3,753.6 288.3,754.4 289.3,755.1 290.3,755.8 291.3,756.3 292.3,756.8 293.3,757.3 294.3,757.7 295.3,758.1 296.3,758.5 297.3,758.7 298.3,758.8 299.3,758.7 300.3,758.6 301.3,758.4 302.3,758.2 303.3,758.1 304.3,758.1 305.3,758.0 306.3,758.0 307.3,757.9 308.3,757.8 309.3,757.3 310.3,756.3 311.3,755.2 312.3,754.2 313.3,753.6 314.3,753.1 315.3,752.6 316.3,751.9 317.3,750.8 318.3,749.3 319.3,747.9 320.3,746.7 321.3,745.8 322.3,745.0 323.3,744.3 324.3,743.6 325.3,743.0 326.3,742.2 327.3,741.4 328.3,740.6 329.3,740.1 330.3,740.0 331.3,740.0 332.3,740.1 333.3,740.3 334.3,740.4 335.3,740.7 336.3,741.2 337.3,742.0 338.3,743.1 339.3,744.2 340.3,745.2 341.3,746.2 342.3,747.2 343.3,748.2 344.3,749.3 345.3,750.3 346.3,751.3 347.3,752.2 348.3,753.1 349.3,754.1 350.3,755.3 351.3,757.1 352.3,759.0 353.3,760.2 354.3,761.1 355.3,761.8 356.3,762.6 357.3,763.5 358.3,764.6 359.3,766.0 360.3,767.5 361.3,769.1 362.3,770.8 363.3,772.7 364.3,774.9 365.3,777.1 366.3,778.8 367.3,779.8 368.3,780.7 369.3,782.0 370.3,783.8 371.3,786.0 372.3,788.4 373.3,791.0 374.3,793.7 375.3,796.9 376.3,800.4 377.3,803.9 378.3,807.1 379.3,809.8 380.3,812.4 381.3,814.7 382.3,816.6 383.3,818.0 384.3,819.3 385.3,820.3 386.3,820.7 387.3,820.5 388.3,819.9 389.3,819.0 390.3,817.3 391.3,814.0 392.3,809.5 393.3,804.4 394.3,799.4 395.3,795.0 396.3,790.6 397.3,786.1 398.3,782.0 399.3,778.7 400.3,775.7 401.3,772.9 402.3,770.3 403.3,768.0 404.3,766.0 405.3,764.4 406.3,763.2 407.3,762.2 408.3,761.3 409.3,760.5 410.3,759.7 411.3,758.8 412.3,757.8 413.3,756.3 414.3,754.7 415.3,753.3 416.3,752.4 417.3,751.9 418.3,751.5 419.3,751.1 420.3,750.8 421.3,750.5 422.3,750.4 423.3,750.3 424.3,750.4 425.3,750.5 426.3,750.7 427.3,750.7 428.3,750.1 429.3,749.5 430.3,749.4 431.3,749.7 432.3,750.2 433.3,750.5 434.3,750.7 435.3,750.7 436.3,750.7 437.3,750.6 438.3,750.6 439.3,750.5 440.3,750.5 441.3,750.5 442.3,750.8 443.3,751.8 444.3,753.1 445.3,754.1 446.3,754.3 447.3,754.2 448.3,754.1 449.3,753.9 450.3,753.8 451.3,753.6 452.3,753.6 453.3,753.9 454.3,754.7 455.3,755.8 456.3,757.2 457.3,758.5 458.3,759.7 459.3,760.5 460.3,761.0 461.3,761.3 462.3,761.6 463.3,762.1 464.3,763.0 465.3,764.4 466.3,765.6 467.3,766.5 468.3,767.3 469.3,768.0 470.3,768.3 471.3,768.0 472.3,767.2 473.3,766.1 474.3,765.0 475.3,764.0 476.3,763.5 477.3,763.4 478.3,763.7 479.3,764.0 480.3,764.1 481.3,763.5 482.3,762.1 483.3,760.7 484.3,760.1 485.3,759.9 486.3,759.7 487.3,759.6 488.3,759.5 489.3,759.3 490.3,759.1 491.3,758.9 492.3,758.7 493.3,758.5 494.3,758.2 495.3,757.8 496.3,757.2 497.3,756.5 498.3,755.7 499.3,754.8 500.3,753.9 501.3,753.1 502.3,752.4 503.3,751.9 504.3,751.5 505.3,751.1 506.3,750.8 507.3,750.4 508.3,750.1 509.3,749.7 510.3,749.3 511.3,748.8 512.3,748.4 513.3,748.0 514.3,747.7 515.3,747.5 516.3,747.5 517.3,747.9 518.3,748.6 519.3,749.1 520.3,749.0 521.3,748.2 522.3,747.4 523.3,747.0 524.3,746.9 525.3,746.8 526.3,746.6 527.3,746.2 528.3,745.2 529.3,744.5 530.3,744.6 531.3,745.6 532.3,747.0 533.3,748.0 534.3,748.5 535.3,749.0 536.3,749.4 537.3,750.1 538.3,751.2 539.3,752.5 540.3,753.7 541.3,754.7 542.3,755.8 543.3,756.9 544.3,757.8 545.3,758.5 546.3,758.8 547.3,758.2 548.3,756.6 549.3,755.2 550.3,754.9 551.3,755.9 552.3,757.3 553.3,757.9 554.3,757.3 555.3,755.9 556.3,754.0 557.3,752.0 558.3,750.2 559.3,749.0 560.3,748.5 561.3,748.4 562.3,748.3 563.3,748.3 564.3,748.2 565.3,748.1 566.3,747.8 567.3,747.2 568.3,746.3 569.3,745.6 570.3,745.3 571.3,745.7 572.3,746.6 573.3,747.9 574.3,749.3 575.3,750.6 576.3,751.4 577.3,751.8 578.3,752.0 579.3,752.2 580.3,752.3 581.3,752.4 582.3,752.5 583.3,752.7 584.3,752.8 585.3,753.0 586.3,753.3 587.3,753.9 588.3,755.3 589.3,757.3 590.3,759.6 591.3,761.8 592.3,763.7 593.3,764.9 594.3,765.2 595.3,765.3 596.3,765.4 597.3,765.6 598.3,766.2 599.3,767.7 600.3,769.8 601.3,771.9 602.3,773.8 603.3,774.9 604.3,775.1 605.3,774.9 606.3,774.6 607.3,774.2 608.3,773.4 609.3,772.0 610.3,771.1 611.3,771.6 612.3,773.9 613.3,775.8 614.3,775.7 615.3,774.0 616.3,771.3 617.3,768.1 618.3,765.1 619.3,762.9 620.3,761.8 621.3,761.2 622.3,760.8 623.3,760.4 624.3,760.1 625.3,759.8 626.3,759.5 627.3,759.2 628.0,759.0" fill="none" stroke="#a6d97c" stroke-width="1.6" stroke-linejoin="round" clip-path="url(#clipc)"/>
<polyline points="144.3,777.3 145.3,776.4 146.3,775.5 147.3,774.4 148.3,773.5 149.3,772.6 150.3,771.8 151.3,771.4 152.3,771.0 153.3,770.6 154.3,770.3 155.3,770.0 156.3,769.8 157.3,769.6 158.3,769.4 159.3,769.3 160.3,769.3 161.3,769.4 162.3,769.6 163.3,769.8 164.3,770.1 165.3,770.5 166.3,770.9 167.3,771.3 168.3,771.7 169.3,772.1 170.3,772.5 171.3,773.0 172.3,773.6 173.3,774.2 174.3,774.7 175.3,775.3 176.3,775.8 177.3,776.2 178.3,776.6 179.3,776.9 180.3,777.2 181.3,777.5 182.3,777.7 183.3,778.0 184.3,778.1 185.3,778.3 186.3,778.3 187.3,778.2 188.3,777.9 189.3,777.5 190.3,777.0 191.3,776.4 192.3,775.8 193.3,775.1 194.3,774.1 195.3,772.9 196.3,771.6 197.3,770.2 198.3,768.7 199.3,767.4 200.3,766.1 201.3,765.1 202.3,764.0 203.3,762.9 204.3,761.8 205.3,760.8 206.3,759.9 207.3,759.0 208.3,758.3 209.3,757.8 210.3,757.3 211.3,756.8 212.3,756.3 213.3,755.9 214.3,755.5 215.3,755.2 216.3,754.9 217.3,754.8 218.3,754.8 219.3,754.9 220.3,755.2 221.3,755.5 222.3,755.9 223.3,756.3 224.3,756.8 225.3,757.2 226.3,757.6 227.3,758.1 228.3,758.7 229.3,759.2 230.3,759.7 231.3,760.2 232.3,760.7 233.3,761.0 234.3,761.5 235.3,761.9 236.3,762.3 237.3,762.6 238.3,762.9 239.3,763.2 240.3,763.3 241.3,763.4 242.3,763.3 243.3,763.1 244.3,762.8 245.3,762.4 246.3,762.0 247.3,761.5 248.3,760.9 249.3,760.4 250.3,759.9 251.3,759.3 252.3,758.6 253.3,757.8 254.3,757.0 255.3,756.1 256.3,755.3 257.3,754.4 258.3,753.5 259.3,752.8 260.3,752.1 261.3,751.5 262.3,751.1 263.3,750.7 264.3,750.3 265.3,749.9 266.3,749.6 267.3,749.4 268.3,749.4 269.3,749.5 270.3,749.8 271.3,750.1 272.3,750.5 273.3,751.0 274.3,751.5 275.3,752.1 276.3,752.7 277.3,753.4 278.3,754.2 279.3,755.1 280.3,756.1 281.3,757.0 282.3,758.0 283.3,759.0 284.3,760.2 285.3,761.4 286.3,762.6 287.3,763.9 288.3,765.2 289.3,766.5 290.3,767.7 291.3,768.8 292.3,769.8 293.3,770.7 294.3,771.5 295.3,772.3 296.3,773.1 297.3,773.8 298.3,774.5 299.3,775.1 300.3,775.7 301.3,776.3 302.3,776.9 303.3,777.5 304.3,778.0 305.3,778.4 306.3,778.5 307.3,778.5 308.3,778.5 309.3,778.4 310.3,778.4 311.3,778.3 312.3,778.2 313.3,778.1 314.3,778.0 315.3,777.8 316.3,777.6 317.3,777.4 318.3,777.3 319.3,777.3 320.3,777.4 321.3,777.5 322.3,777.6 323.3,777.8 324.3,778.0 325.3,778.2 326.3,778.6 327.3,779.0 328.3,779.6 329.3,780.2 330.3,780.9 331.3,781.6 332.3,782.4 333.3,783.1 334.3,784.0 335.3,784.9 336.3,785.9 337.3,787.0 338.3,788.1 339.3,789.2 340.3,790.2 341.3,791.3 342.3,792.3 343.3,793.3 344.3,794.2 345.3,795.2 346.3,796.1 347.3,797.0 348.3,797.9 349.3,798.8 350.3,799.8 351.3,800.7 352.3,801.6 353.3,802.5 354.3,803.5 355.3,804.4 356.3,805.3 357.3,806.2 358.3,807.1 359.3,808.0 360.3,809.0 361.3,810.0 362.3,811.0 363.3,812.1 364.3,813.2 365.3,814.4 366.3,815.6 367.3,816.8 368.3,818.0 369.3,819.2 370.3,820.3 371.3,821.5 372.3,822.8 373.3,824.0 374.3,824.9 375.3,825.6 376.3,825.8 377.3,826.0 378.3,826.1 379.3,826.0 380.3,824.9 381.3,823.1 382.3,820.8 383.3,818.2 384.3,814.6 385.3,810.3 386.3,805.6 387.3,800.3 388.3,794.2 389.3,787.7 390.3,781.4 391.3,774.9 392.3,768.3 393.3,762.3 394.3,757.0 395.3,751.9 396.3,747.0 397.3,742.9 398.3,739.7 399.3,737.6 400.3,735.9 401.3,734.5 402.3,733.4 403.3,732.6 404.3,731.9 405.3,731.4 406.3,731.3 407.3,731.7 408.3,732.3 409.3,733.0 410.3,733.8 411.3,734.6 412.3,735.3 413.3,736.1 414.3,737.0 415.3,737.9 416.3,738.8 417.3,739.8 418.3,740.8 419.3,741.7 420.3,742.7 421.3,743.7 422.3,744.6 423.3,745.5 424.3,746.5 425.3,747.4 426.3,748.4 427.3,749.3 428.3,750.3 429.3,751.2 430.3,752.1 431.3,753.0 432.3,753.9 433.3,754.7 434.3,755.5 435.3,756.3 436.3,757.1 437.3,757.9 438.3,758.6 439.3,759.4 440.3,760.1 441.3,760.8 442.3,761.5 443.3,762.2 444.3,762.9 445.3,763.7 446.3,764.4 447.3,765.0 448.3,765.7 449.3,766.4 450.3,767.0 451.3,767.6 452.3,768.2 453.3,768.8 454.3,769.3 455.3,769.9 456.3,770.4 457.3,770.8 458.3,771.3 459.3,771.8 460.3,772.2 461.3,772.7 462.3,773.1 463.3,773.5 464.3,773.9 465.3,774.3 466.3,774.6 467.3,775.0 468.3,775.3 469.3,775.7 470.3,776.0 471.3,776.3 472.3,776.6 473.3,777.0 474.3,777.3 475.3,777.6 476.3,778.0 477.3,778.3 478.3,778.7 479.3,779.1 480.3,779.5 481.3,779.9 482.3,780.3 483.3,780.6 484.3,781.0 485.3,781.3 486.3,781.6 487.3,781.8 488.3,782.0 489.3,782.3 490.3,782.5 491.3,782.7 492.3,782.9 493.3,783.0 494.3,783.2 495.3,783.3 496.3,783.3 497.3,783.3 498.3,783.2 499.3,783.2 500.3,783.1 501.3,783.0 502.3,782.9 503.3,782.8 504.3,782.7 505.3,782.6 506.3,782.4 507.3,782.3 508.3,782.2 509.3,782.0 510.3,781.8 511.3,781.5 512.3,781.2 513.3,781.2 514.3,781.4 515.3,781.6 516.3,781.8 517.3,782.1 518.3,782.4 519.3,782.8 520.3,783.1 521.3,783.5 522.3,784.0 523.3,784.5 524.3,785.0 525.3,785.5 526.3,786.0 527.3,786.6 528.3,787.2 529.3,787.9 530.3,788.5 531.3,789.2 532.3,789.9 533.3,790.5 534.3,791.0 535.3,791.5 536.3,791.9 537.3,792.4 538.3,792.9 539.3,793.3 540.3,793.7 541.3,794.1 542.3,794.3 543.3,794.5 544.3,794.5 545.3,794.4 546.3,794.3 547.3,794.1 548.3,793.9 549.3,793.7 550.3,793.4 551.3,792.8 552.3,792.1 553.3,791.3 554.3,790.4 555.3,789.5 556.3,788.6 557.3,787.8 558.3,786.9 559.3,786.0 560.3,785.0 561.3,784.0 562.3,783.1 563.3,782.2 564.3,781.3 565.3,780.5 566.3,779.7 567.3,779.0 568.3,778.2 569.3,777.5 570.3,776.8 571.3,776.1 572.3,775.6 573.3,775.3 574.3,775.1 575.3,774.9 576.3,774.8 577.3,774.7 578.3,774.7 579.3,774.6 580.3,774.5 581.3,774.5 582.3,774.4 583.3,774.3 584.3,774.1 585.3,774.0 586.3,773.8 587.3,773.7 588.3,773.5 589.3,773.2 590.3,773.0 591.3,772.7 592.3,772.4 593.3,772.1 594.3,771.7 595.3,771.2 596.3,770.6 597.3,769.9 598.3,769.1 599.3,768.2 600.3,767.3 601.3,766.2 602.3,764.8 603.3,763.2 604.3,761.5 605.3,759.7 606.3,757.9 607.3,755.9 608.3,753.7 609.3,751.4 610.3,749.1 611.3,746.8 612.3,744.6 613.3,742.3 614.3,740.0 615.3,737.9 616.3,736.0 617.3,734.2 618.3,732.4 619.3,730.6 620.3,728.9 621.3,727.4 622.3,726.3 623.3,725.6 624.3,725.2 625.3,725.0 626.3,724.9 627.3,724.9 628.0,724.9" fill="none" stroke="#1f6db0" stroke-width="1.9" stroke-linejoin="round" clip-path="url(#clipc)"/>
<defs><clipPath id="photo"><rect x="497.6" y="827.6" width="118.1" height="114.1"/></clipPath>
<radialGradient id="disc" cx="0.55" cy="0.55" r="0.6"><stop offset="0" stop-color="#b8b3a4"/><stop offset="0.8" stop-color="#bcb7a9"/><stop offset="1" stop-color="#c6c3b5"/></radialGradient>
<linearGradient id="shade" x1="0" y1="0" x2="1" y2="1"><stop offset="0" stop-color="#000" stop-opacity="0"/><stop offset="0.55" stop-color="#000" stop-opacity="0"/><stop offset="1" stop-color="#000" stop-opacity="0.3"/></linearGradient></defs>
<g clip-path="url(#photo)">
<rect x="497.6" y="827.6" width="118.1" height="114.1" fill="#73736c"/>
<g fill="none"><path d="M497.6,822.0 C530,825.8 580,831.4 615.7,835.4" stroke="#4c4c47" stroke-width="2.7" opacity="0.65"/><path d="M497.6,830.3 C530,835.3 580,835.6 615.7,841.3" stroke="#4c4c47" stroke-width="2.3" opacity="0.63"/><path d="M497.6,837.7 C530,838.4 580,848.6 615.7,849.2" stroke="#4c4c47" stroke-width="2.1" opacity="0.73"/><path d="M497.6,847.1 C530,846.3 580,852.3 615.7,854.3" stroke="#4c4c47" stroke-width="3.0" opacity="0.67"/><path d="M497.6,853.7 C530,855.4 580,857.8 615.7,860.0" stroke="#4c4c47" stroke-width="2.3" opacity="0.53"/><path d="M497.6,862.8 C530,866.7 580,869.5 615.7,872.8" stroke="#4c4c47" stroke-width="2.8" opacity="0.67"/><path d="M497.6,870.1 C530,875.2 580,877.9 615.7,882.8" stroke="#4c4c47" stroke-width="3.6" opacity="0.80"/><path d="M497.6,877.3 C530,880.3 580,887.9 615.7,889.4" stroke="#4c4c47" stroke-width="2.5" opacity="0.47"/><path d="M497.6,885.0 C530,885.0 580,891.6 615.7,891.0" stroke="#4c4c47" stroke-width="3.5" opacity="0.75"/><path d="M497.6,892.9 C530,895.6 580,899.1 615.7,899.4" stroke="#4c4c47" stroke-width="3.6" opacity="0.59"/><path d="M497.6,900.2 C530,905.8 580,907.5 615.7,913.9" stroke="#4c4c47" stroke-width="2.1" opacity="0.57"/><path d="M497.6,907.4 C530,909.2 580,916.4 615.7,919.8" stroke="#4c4c47" stroke-width="2.2" opacity="0.47"/><path d="M497.6,915.3 C530,918.2 580,917.9 615.7,922.3" stroke="#4c4c47" stroke-width="2.3" opacity="0.71"/><path d="M497.6,923.0 C530,929.0 580,931.5 615.7,936.8" stroke="#4c4c47" stroke-width="2.3" opacity="0.54"/><path d="M497.6,932.2 C530,936.9 580,938.8 615.7,945.0" stroke="#4c4c47" stroke-width="2.3" opacity="0.59"/><path d="M497.6,941.6 C530,944.3 580,948.9 615.7,953.8" stroke="#4c4c47" stroke-width="2.3" opacity="0.54"/></g>
<rect x="497.6" y="827.6" width="118.1" height="114.1" fill="url(#shade)"/>
<rect x="497.6" y="827.6" width="1.4" height="114.1" fill="#3c3c38"/>
<rect x="497.6" y="827.6" width="118.1" height="1.4" fill="#4a4a45"/>
<ellipse cx="556" cy="935.5" rx="12" ry="1.5" fill="#d8d6cf" opacity="0.35"/>
<ellipse cx="555.6" cy="885.4" rx="50.6" ry="49.6" fill="url(#disc)"/>
<path d="M542.7,838.3 A49.8,48.8 0 0 0 507.5,898.0" stroke="#d2d3c2" stroke-width="1.6" fill="none" opacity="0.7" stroke-linecap="round"/>
</g>
<text x="164.6" y="602.7" class="lg">D(+)-Lactose</text>
<line x1="164.0" y1="619.2" x2="205.9" y2="619.2" stroke="#9ecae6" stroke-width="1.8"/>
<text x="209.5" y="624.8" class="lg">30%</text>
<line x1="164.0" y1="641.8" x2="205.9" y2="641.8" stroke="#1f6db0" stroke-width="2.1"/>
<text x="209.5" y="647.4" class="lg">50%</text>
<line x1="164.0" y1="664.3" x2="205.9" y2="664.3" stroke="#a6d97c" stroke-width="1.8"/>
<text x="209.5" y="669.9" class="lg">70%</text>
<path d="M820.5,568.3 H1303.1 V950.0 H820.5 Z" fill="none" stroke="#000" stroke-width="1.9" stroke-linejoin="miter"/>
<path d="M833.91,950.0 v4.0 M833.91,568.3 v4.0 M900.93,950.0 v7.5 M900.93,568.3 v7.5 M967.96,950.0 v4.0 M967.96,568.3 v4.0 M1034.99,950.0 v7.5 M1034.99,568.3 v7.5 M1102.02,950.0 v4.0 M1102.02,568.3 v4.0 M1169.04,950.0 v7.5 M1169.04,568.3 v7.5 M1236.07,950.0 v4.0 M1236.07,568.3 v4.0 M1303.10,950.0 v7.5 M1303.10,568.3 v7.5 M820.5,568.30 h-7.5 M1303.1,568.30 h-7.5 M820.5,631.92 h-7.5 M1303.1,631.92 h-7.5 M820.5,695.53 h-7.5 M1303.1,695.53 h-7.5 M820.5,759.15 h-7.5 M1303.1,759.15 h-7.5 M820.5,822.77 h-7.5 M1303.1,822.77 h-7.5 M820.5,886.38 h-7.5 M1303.1,886.38 h-7.5 M820.5,950.00 h-7.5 M1303.1,950.00 h-7.5 M820.5,600.11 h-4.0 M1303.1,600.11 h-4.0 M820.5,663.72 h-4.0 M1303.1,663.72 h-4.0 M820.5,727.34 h-4.0 M1303.1,727.34 h-4.0 M820.5,790.96 h-4.0 M1303.1,790.96 h-4.0 M820.5,854.58 h-4.0 M1303.1,854.58 h-4.0 M820.5,918.19 h-4.0 M1303.1,918.19 h-4.0" fill="none" stroke="#000" stroke-width="1.9"/>
<text x="807.5" y="576.6" text-anchor="end" class="tk">0.06</text>
<text x="807.5" y="640.2" text-anchor="end" class="tk">0.04</text>
<text x="807.5" y="703.8" text-anchor="end" class="tk">0.02</text>
<text x="807.5" y="767.4" text-anchor="end" class="tk">0.00</text>
<text x="807.5" y="831.1" text-anchor="end" class="tk">−0.02</text>
<text x="807.5" y="894.7" text-anchor="end" class="tk">−0.04</text>
<text x="807.5" y="958.3" text-anchor="end" class="tk">−0.06</text>
<text x="900.9" y="982.8" text-anchor="middle" class="tk">0.25</text>
<text x="1035.0" y="982.8" text-anchor="middle" class="tk">0.50</text>
<text x="1169.0" y="982.8" text-anchor="middle" class="tk">0.75</text>
<text x="1303.1" y="982.8" text-anchor="middle" class="tk">1.00</text>
<text x="1061.8" y="1029.8" text-anchor="middle" class="ttl">Frequency (THz)</text>
<text transform="translate(737.0,759.1) rotate(-90)" x="0" y="0" text-anchor="middle" class="ttl" textLength="206.7" lengthAdjust="spacing">THz-CD  (rad)</text>
<polyline points="820.5,771.2 821.5,770.6 822.5,770.0 823.5,769.4 824.5,768.8 825.5,768.2 826.5,767.6 827.5,767.0 828.5,766.4 829.5,765.8 830.5,765.1 831.5,764.5 832.5,763.8 833.5,763.2 834.5,762.5 835.5,761.8 836.5,760.9 837.5,760.1 838.5,759.1 839.5,758.2 840.5,757.2 841.5,756.3 842.5,755.3 843.5,754.5 844.5,753.6 845.5,752.9 846.5,752.2 847.5,751.7 848.5,751.3 849.5,751.0 850.5,750.9 851.5,751.0 852.5,751.4 853.5,752.0 854.5,752.9 855.5,754.0 856.5,755.2 857.5,756.6 858.5,758.1 859.5,759.7 860.5,761.5 861.5,763.2 862.5,765.0 863.5,766.8 864.5,768.6 865.5,770.4 866.5,772.1 867.5,773.7 868.5,775.2 869.5,776.6 870.5,777.8 871.5,778.8 872.5,779.6 873.5,780.2 874.5,780.5 875.5,780.6 876.5,780.5 877.5,780.2 878.5,779.8 879.5,779.2 880.5,778.5 881.5,777.7 882.5,776.8 883.5,775.8 884.5,774.7 885.5,773.5 886.5,772.2 887.5,770.9 888.5,769.5 889.5,768.1 890.5,766.7 891.5,765.2 892.5,763.7 893.5,762.3 894.5,760.8 895.5,759.3 896.5,757.9 897.5,756.4 898.5,755.1 899.5,753.7 900.5,752.5 901.5,751.3 902.5,750.2 903.5,749.1 904.5,748.2 905.5,747.4 906.5,746.6 907.5,746.1 908.5,745.6 909.5,745.3 910.5,745.1 911.5,745.1 912.5,745.4 913.5,745.8 914.5,746.5 915.5,747.4 916.5,748.4 917.5,749.6 918.5,750.9 919.5,752.3 920.5,753.9 921.5,755.5 922.5,757.2 923.5,758.9 924.5,760.6 925.5,762.4 926.5,764.2 927.5,765.9 928.5,767.6 929.5,769.2 930.5,770.8 931.5,772.2 932.5,773.6 933.5,774.8 934.5,775.8 935.5,776.7 936.5,777.4 937.5,778.0 938.5,778.2 939.5,778.3 940.5,778.2 941.5,777.8 942.5,777.4 943.5,776.8 944.5,776.0 945.5,775.2 946.5,774.2 947.5,773.1 948.5,772.0 949.5,770.7 950.5,769.4 951.5,768.1 952.5,766.6 953.5,765.2 954.5,763.7 955.5,762.2 956.5,760.7 957.5,759.2 958.5,757.8 959.5,756.3 960.5,754.9 961.5,753.6 962.5,752.3 963.5,751.1 964.5,749.9 965.5,748.9 966.5,747.9 967.5,747.1 968.5,746.4 969.5,745.9 970.5,745.4 971.5,745.2 972.5,745.1 973.5,745.2 974.5,745.6 975.5,746.2 976.5,747.0 977.5,748.1 978.5,749.2 979.5,750.6 980.5,752.1 981.5,753.7 982.5,755.4 983.5,757.2 984.5,759.1 985.5,761.0 986.5,763.0 987.5,765.0 988.5,767.0 989.5,768.9 990.5,770.9 991.5,772.7 992.5,774.6 993.5,776.3 994.5,777.9 995.5,779.3 996.5,780.7 997.5,781.9 998.5,782.9 999.5,783.7 1000.5,784.2 1001.5,784.6 1002.5,784.7 1003.5,784.6 1004.5,784.4 1005.5,784.0 1006.5,783.5 1007.5,782.9 1008.5,782.2 1009.5,781.4 1010.5,780.5 1011.5,779.5 1012.5,778.5 1013.5,777.4 1014.5,776.2 1015.5,775.0 1016.5,773.8 1017.5,772.5 1018.5,771.2 1019.5,769.9 1020.5,768.6 1021.5,767.3 1022.5,766.0 1023.5,764.8 1024.5,763.5 1025.5,762.4 1026.5,761.2 1027.5,760.2 1028.5,759.2 1029.5,758.2 1030.5,757.4 1031.5,756.6 1032.5,756.0 1033.5,755.5 1034.5,755.0 1035.5,754.8 1036.5,754.6 1037.5,754.6 1038.5,754.8 1039.5,755.1 1040.5,755.6 1041.5,756.2 1042.5,757.0 1043.5,757.8 1044.5,758.8 1045.5,759.8 1046.5,760.9 1047.5,762.0 1048.5,763.1 1049.5,764.3 1050.5,765.5 1051.5,766.7 1052.5,767.9 1053.5,769.0 1054.5,770.1 1055.5,771.1 1056.5,772.1 1057.5,773.0 1058.5,773.7 1059.5,774.4 1060.5,774.9 1061.5,775.2 1062.5,775.5 1063.5,775.5 1064.5,775.3 1065.5,774.9 1066.5,774.2 1067.5,773.4 1068.5,772.4 1069.5,771.2 1070.5,769.9 1071.5,768.4 1072.5,766.8 1073.5,765.1 1074.5,763.3 1075.5,761.4 1076.5,759.4 1077.5,757.4 1078.5,755.4 1079.5,753.3 1080.5,751.2 1081.5,749.1 1082.5,747.1 1083.5,745.1 1084.5,743.1 1085.5,741.2 1086.5,739.3 1087.5,737.6 1088.5,736.0 1089.5,734.4 1090.5,733.1 1091.5,731.8 1092.5,730.8 1093.5,729.9 1094.5,729.2 1095.5,728.7 1096.5,728.4 1097.5,728.4 1098.5,728.7 1099.5,729.3 1100.5,730.2 1101.5,731.3 1102.5,732.7 1103.5,734.2 1104.5,736.0 1105.5,738.0 1106.5,740.1 1107.5,742.3 1108.5,744.7 1109.5,747.1 1110.5,749.7 1111.5,752.3 1112.5,754.9 1113.5,757.5 1114.5,760.1 1115.5,762.7 1116.5,765.3 1117.5,767.7 1118.5,770.1 1119.5,772.4 1120.5,774.5 1121.5,776.5 1122.5,778.3 1123.5,779.9 1124.5,781.4 1125.5,782.5 1126.5,783.4 1127.5,784.1 1128.5,784.4 1129.5,784.5 1130.5,784.2 1131.5,783.6 1132.5,782.7 1133.5,781.5 1134.5,780.1 1135.5,778.5 1136.5,776.7 1137.5,774.6 1138.5,772.5 1139.5,770.1 1140.5,767.6 1141.5,765.1 1142.5,762.4 1143.5,759.6 1144.5,756.8 1145.5,754.0 1146.5,751.2 1147.5,748.3 1148.5,745.5 1149.5,742.8 1150.5,740.1 1151.5,737.5 1152.5,735.0 1153.5,732.6 1154.5,730.4 1155.5,728.3 1156.5,726.4 1157.5,724.8 1158.5,723.3 1159.5,722.1 1160.5,721.2 1161.5,720.5 1162.5,720.2 1163.5,720.1 1164.5,720.7 1165.5,721.7 1166.5,723.2 1167.5,725.2 1168.5,727.5 1169.5,730.2 1170.5,733.3 1171.5,736.6 1172.5,740.1 1173.5,743.9 1174.5,747.8 1175.5,751.8 1176.5,755.8 1177.5,759.9 1178.5,763.9 1179.5,767.9 1180.5,771.8 1181.5,775.6 1182.5,779.2 1183.5,782.5 1184.5,785.6 1185.5,788.3 1186.5,790.7 1187.5,792.7 1188.5,794.3 1189.5,795.4 1190.5,795.9 1191.5,795.9 1192.5,795.4 1193.5,794.4 1194.5,793.0 1195.5,791.1 1196.5,788.8 1197.5,786.2 1198.5,783.3 1199.5,780.1 1200.5,776.6 1201.5,772.9 1202.5,769.1 1203.5,765.0 1204.5,760.9 1205.5,756.7 1206.5,752.5 1207.5,748.2 1208.5,743.9 1209.5,739.7 1210.5,735.6 1211.5,731.7 1212.5,727.8 1213.5,724.2 1214.5,720.8 1215.5,717.6 1216.5,714.7 1217.5,712.2 1218.5,710.0 1219.5,708.2 1220.5,706.9 1221.5,705.9 1222.5,705.5 1223.5,705.7 1224.5,706.6 1225.5,708.2 1226.5,710.4 1227.5,713.3 1228.5,716.6 1229.5,720.5 1230.5,724.7 1231.5,729.4 1232.5,734.4 1233.5,739.7 1234.5,745.1 1235.5,750.8 1236.5,756.6 1237.5,762.4 1238.5,768.2 1239.5,774.0 1240.5,779.7 1241.5,785.3 1242.5,790.6 1243.5,795.7 1244.5,800.5 1245.5,805.0 1246.5,809.0 1247.5,812.6 1248.5,815.6 1249.5,818.1 1250.5,820.0 1251.5,821.1 1252.5,821.6 1253.5,821.3 1254.5,820.3 1255.5,818.6 1256.5,816.2 1257.5,813.3 1258.5,809.8 1259.5,805.9 1260.5,801.5 1261.5,796.8 1262.5,791.6 1263.5,786.2 1264.5,780.6 1265.5,774.8 1266.5,768.8 1267.5,762.7 1268.5,756.6 1269.5,750.5 1270.5,744.4 1271.5,738.4 1272.5,732.6 1273.5,727.0 1274.5,721.6 1275.5,716.4 1276.5,711.7 1277.5,707.3 1278.5,703.4 1279.5,699.9 1280.5,697.0 1281.5,694.6 1282.5,692.9 1283.5,691.9 1284.5,691.6 1285.5,692.0 1286.5,693.2 1287.5,695.0 1288.5,697.4 1289.5,700.5 1290.5,704.1 1291.5,708.3 1292.5,713.1 1293.5,718.3 1294.5,724.0 1295.5,730.2 1296.5,736.8 1297.5,743.8 1298.5,751.2 1299.5,758.9 1300.5,766.9 1301.5,775.2 1302.5,783.7 1303.5,792.5 1304.0,797.0" fill="none" stroke="#e895b6" stroke-width="1.6" stroke-linejoin="round" clip-path="url(#clipd)"/>
<polyline points="820.5,748.6 821.5,747.9 822.5,747.2 823.5,746.6 824.5,746.0 825.5,745.5 826.5,745.0 827.5,744.6 828.5,744.2 829.5,743.8 830.5,743.5 831.5,743.3 832.5,743.0 833.5,742.8 834.5,742.6 835.5,742.5 836.5,742.4 837.5,742.3 838.5,742.2 839.5,742.1 840.5,742.1 841.5,742.0 842.5,742.0 843.5,742.0 844.5,742.0 845.5,742.0 846.5,742.0 847.5,742.1 848.5,742.4 849.5,742.8 850.5,743.3 851.5,744.0 852.5,744.7 853.5,745.6 854.5,746.6 855.5,747.6 856.5,748.7 857.5,749.9 858.5,751.1 859.5,752.4 860.5,753.6 861.5,754.9 862.5,756.2 863.5,757.5 864.5,758.8 865.5,760.0 866.5,761.2 867.5,762.3 868.5,763.4 869.5,764.4 870.5,765.4 871.5,766.2 872.5,766.9 873.5,767.5 874.5,768.0 875.5,768.3 876.5,768.5 877.5,768.5 878.5,768.4 879.5,768.2 880.5,767.9 881.5,767.5 882.5,767.0 883.5,766.4 884.5,765.8 885.5,765.1 886.5,764.3 887.5,763.5 888.5,762.7 889.5,761.8 890.5,760.9 891.5,760.0 892.5,759.0 893.5,758.1 894.5,757.1 895.5,756.2 896.5,755.3 897.5,754.4 898.5,753.6 899.5,752.7 900.5,752.0 901.5,751.3 902.5,750.6 903.5,750.0 904.5,749.5 905.5,749.1 906.5,748.8 907.5,748.5 908.5,748.4 909.5,748.4 910.5,748.6 911.5,749.0 912.5,749.5 913.5,750.2 914.5,751.1 915.5,752.0 916.5,753.1 917.5,754.2 918.5,755.4 919.5,756.7 920.5,758.0 921.5,759.3 922.5,760.7 923.5,762.0 924.5,763.2 925.5,764.5 926.5,765.6 927.5,766.7 928.5,767.7 929.5,768.5 930.5,769.2 931.5,769.8 932.5,770.2 933.5,770.4 934.5,770.4 935.5,770.3 936.5,770.1 937.5,769.8 938.5,769.4 939.5,768.9 940.5,768.3 941.5,767.7 942.5,767.0 943.5,766.3 944.5,765.5 945.5,764.6 946.5,763.7 947.5,762.8 948.5,761.8 949.5,760.8 950.5,759.8 951.5,758.8 952.5,757.7 953.5,756.7 954.5,755.6 955.5,754.6 956.5,753.6 957.5,752.6 958.5,751.6 959.5,750.7 960.5,749.8 961.5,749.0 962.5,748.2 963.5,747.4 964.5,746.8 965.5,746.1 966.5,745.6 967.5,745.1 968.5,744.8 969.5,744.5 970.5,744.3 971.5,744.2 972.5,744.2 973.5,744.5 974.5,744.8 975.5,745.3 976.5,746.0 977.5,746.7 978.5,747.6 979.5,748.6 980.5,749.6 981.5,750.7 982.5,751.8 983.5,753.0 984.5,754.3 985.5,755.5 986.5,756.7 987.5,758.0 988.5,759.2 989.5,760.3 990.5,761.4 991.5,762.4 992.5,763.4 993.5,764.3 994.5,765.0 995.5,765.7 996.5,766.2 997.5,766.5 998.5,766.8 999.5,766.8 1000.5,766.7 1001.5,766.4 1002.5,766.0 1003.5,765.4 1004.5,764.7 1005.5,763.9 1006.5,763.0 1007.5,761.9 1008.5,760.8 1009.5,759.6 1010.5,758.3 1011.5,756.9 1012.5,755.4 1013.5,753.9 1014.5,752.3 1015.5,750.6 1016.5,748.9 1017.5,747.2 1018.5,745.4 1019.5,743.7 1020.5,741.9 1021.5,740.1 1022.5,738.3 1023.5,736.5 1024.5,734.7 1025.5,732.9 1026.5,731.2 1027.5,729.5 1028.5,727.9 1029.5,726.3 1030.5,724.7 1031.5,723.2 1032.5,721.8 1033.5,720.5 1034.5,719.2 1035.5,718.1 1036.5,717.0 1037.5,716.1 1038.5,715.2 1039.5,714.5 1040.5,713.9 1041.5,713.5 1042.5,713.2 1043.5,713.0 1044.5,713.0 1045.5,713.3 1046.5,713.9 1047.5,714.6 1048.5,715.7 1049.5,716.9 1050.5,718.2 1051.5,719.8 1052.5,721.5 1053.5,723.3 1054.5,725.2 1055.5,727.2 1056.5,729.2 1057.5,731.3 1058.5,733.4 1059.5,735.5 1060.5,737.6 1061.5,739.6 1062.5,741.6 1063.5,743.5 1064.5,745.3 1065.5,746.9 1066.5,748.4 1067.5,749.8 1068.5,751.0 1069.5,751.9 1070.5,752.7 1071.5,753.2 1072.5,753.4 1073.5,753.4 1074.5,753.2 1075.5,752.8 1076.5,752.4 1077.5,751.8 1078.5,751.1 1079.5,750.3 1080.5,749.5 1081.5,748.5 1082.5,747.5 1083.5,746.5 1084.5,745.4 1085.5,744.3 1086.5,743.2 1087.5,742.1 1088.5,741.0 1089.5,739.9 1090.5,738.9 1091.5,737.9 1092.5,736.9 1093.5,736.0 1094.5,735.3 1095.5,734.6 1096.5,734.0 1097.5,733.5 1098.5,733.2 1099.5,733.0 1100.5,732.9 1101.5,733.0 1102.5,733.3 1103.5,733.8 1104.5,734.4 1105.5,735.1 1106.5,736.0 1107.5,737.0 1108.5,738.0 1109.5,739.1 1110.5,740.3 1111.5,741.5 1112.5,742.8 1113.5,744.1 1114.5,745.4 1115.5,746.6 1116.5,747.9 1117.5,749.1 1118.5,750.2 1119.5,751.3 1120.5,752.3 1121.5,753.2 1122.5,754.0 1123.5,754.7 1124.5,755.3 1125.5,755.6 1126.5,755.9 1127.5,755.9 1128.5,755.7 1129.5,755.2 1130.5,754.5 1131.5,753.6 1132.5,752.5 1133.5,751.2 1134.5,749.7 1135.5,748.1 1136.5,746.3 1137.5,744.4 1138.5,742.4 1139.5,740.2 1140.5,738.0 1141.5,735.8 1142.5,733.4 1143.5,731.1 1144.5,728.7 1145.5,726.3 1146.5,723.9 1147.5,721.5 1148.5,719.1 1149.5,716.8 1150.5,714.6 1151.5,712.5 1152.5,710.4 1153.5,708.5 1154.5,706.6 1155.5,705.0 1156.5,703.4 1157.5,702.1 1158.5,700.9 1159.5,699.9 1160.5,699.2 1161.5,698.6 1162.5,698.3 1163.5,698.3 1164.5,698.8 1165.5,699.8 1166.5,701.2 1167.5,703.1 1168.5,705.3 1169.5,707.8 1170.5,710.7 1171.5,713.8 1172.5,717.1 1173.5,720.6 1174.5,724.3 1175.5,728.0 1176.5,731.8 1177.5,735.7 1178.5,739.5 1179.5,743.2 1180.5,746.9 1181.5,750.4 1182.5,753.8 1183.5,756.9 1184.5,759.8 1185.5,762.4 1186.5,764.6 1187.5,766.5 1188.5,768.0 1189.5,769.0 1190.5,769.5 1191.5,769.6 1192.5,769.2 1193.5,768.4 1194.5,767.3 1195.5,765.9 1196.5,764.2 1197.5,762.2 1198.5,760.0 1199.5,757.5 1200.5,754.9 1201.5,752.0 1202.5,749.0 1203.5,745.9 1204.5,742.6 1205.5,739.2 1206.5,735.8 1207.5,732.3 1208.5,728.8 1209.5,725.2 1210.5,721.7 1211.5,718.2 1212.5,714.8 1213.5,711.5 1214.5,708.3 1215.5,705.2 1216.5,702.2 1217.5,699.4 1218.5,696.8 1219.5,694.5 1220.5,692.3 1221.5,690.5 1222.5,688.9 1223.5,687.6 1224.5,686.6 1225.5,686.0 1226.5,685.8 1227.5,686.1 1228.5,687.2 1229.5,689.0 1230.5,691.4 1231.5,694.3 1232.5,697.8 1233.5,701.8 1234.5,706.1 1235.5,710.8 1236.5,715.7 1237.5,720.9 1238.5,726.2 1239.5,731.6 1240.5,737.1 1241.5,742.5 1242.5,747.9 1243.5,753.1 1244.5,758.1 1245.5,762.8 1246.5,767.2 1247.5,771.2 1248.5,774.8 1249.5,777.9 1250.5,780.4 1251.5,782.3 1252.5,783.5 1253.5,784.0 1254.5,783.8 1255.5,783.0 1256.5,781.6 1257.5,779.8 1258.5,777.4 1259.5,774.7 1260.5,771.5 1261.5,768.0 1262.5,764.1 1263.5,759.9 1264.5,755.4 1265.5,750.7 1266.5,745.7 1267.5,740.6 1268.5,735.3 1269.5,730.0 1270.5,724.5 1271.5,719.0 1272.5,713.4 1273.5,707.9 1274.5,702.4 1275.5,697.0 1276.5,691.7 1277.5,686.6 1278.5,681.6 1279.5,676.8 1280.5,672.3 1281.5,668.0 1282.5,664.1 1283.5,660.5 1284.5,657.2 1285.5,654.4 1286.5,652.0 1287.5,650.0 1288.5,648.6 1289.5,647.7 1290.5,647.3 1291.5,647.6 1292.5,648.8 1293.5,650.7 1294.5,653.3 1295.5,656.5 1296.5,660.3 1297.5,664.6 1298.5,669.3 1299.5,674.3 1300.5,679.7 1301.5,685.3 1302.5,691.1 1303.5,697.0 1304.0,700.0" fill="none" stroke="#8dd3f1" stroke-width="1.6" stroke-linejoin="round" clip-path="url(#clipd)"/>
<polyline points="820.5,748.9 821.5,748.8 822.5,748.6 823.5,748.5 824.5,748.4 825.5,748.2 826.5,748.1 827.5,747.9 828.5,747.7 829.5,747.6 830.5,747.4 831.5,747.2 832.5,746.9 833.5,746.7 834.5,746.4 835.5,746.1 836.5,745.8 837.5,745.5 838.5,745.3 839.5,745.0 840.5,744.8 841.5,744.7 842.5,744.6 843.5,744.5 844.5,744.5 845.5,744.7 846.5,745.0 847.5,745.5 848.5,746.0 849.5,746.7 850.5,747.5 851.5,748.3 852.5,749.3 853.5,750.3 854.5,751.4 855.5,752.5 856.5,753.7 857.5,754.9 858.5,756.1 859.5,757.4 860.5,758.7 861.5,759.9 862.5,761.2 863.5,762.4 864.5,763.6 865.5,764.8 866.5,765.9 867.5,767.0 868.5,768.0 869.5,769.0 870.5,769.8 871.5,770.6 872.5,771.2 873.5,771.8 874.5,772.2 875.5,772.5 876.5,772.7 877.5,772.7 878.5,772.6 879.5,772.4 880.5,772.0 881.5,771.6 882.5,771.1 883.5,770.5 884.5,769.8 885.5,769.0 886.5,768.3 887.5,767.4 888.5,766.5 889.5,765.6 890.5,764.7 891.5,763.7 892.5,762.8 893.5,761.8 894.5,760.9 895.5,759.9 896.5,759.1 897.5,758.2 898.5,757.4 899.5,756.6 900.5,755.9 901.5,755.3 902.5,754.8 903.5,754.3 904.5,753.9 905.5,753.7 906.5,753.5 907.5,753.5 908.5,753.6 909.5,753.9 910.5,754.3 911.5,754.8 912.5,755.4 913.5,756.2 914.5,757.0 915.5,757.8 916.5,758.8 917.5,759.7 918.5,760.7 919.5,761.8 920.5,762.8 921.5,763.8 922.5,764.9 923.5,765.9 924.5,766.8 925.5,767.7 926.5,768.6 927.5,769.3 928.5,770.0 929.5,770.6 930.5,771.1 931.5,771.4 932.5,771.6 933.5,771.7 934.5,771.6 935.5,771.4 936.5,771.1 937.5,770.6 938.5,770.1 939.5,769.5 940.5,768.7 941.5,767.9 942.5,767.0 943.5,766.1 944.5,765.1 945.5,764.0 946.5,763.0 947.5,761.8 948.5,760.7 949.5,759.5 950.5,758.3 951.5,757.2 952.5,756.0 953.5,754.8 954.5,753.7 955.5,752.6 956.5,751.5 957.5,750.5 958.5,749.5 959.5,748.6 960.5,747.8 961.5,747.0 962.5,746.3 963.5,745.8 964.5,745.3 965.5,744.9 966.5,744.6 967.5,744.5 968.5,744.5 969.5,744.7 970.5,745.1 971.5,745.6 972.5,746.3 973.5,747.2 974.5,748.2 975.5,749.3 976.5,750.5 977.5,751.7 978.5,753.1 979.5,754.6 980.5,756.1 981.5,757.6 982.5,759.2 983.5,760.8 984.5,762.4 985.5,763.9 986.5,765.5 987.5,767.0 988.5,768.5 989.5,770.0 990.5,771.3 991.5,772.6 992.5,773.8 993.5,774.8 994.5,775.8 995.5,776.6 996.5,777.3 997.5,777.8 998.5,778.1 999.5,778.3 1000.5,778.3 1001.5,778.1 1002.5,777.8 1003.5,777.3 1004.5,776.7 1005.5,776.0 1006.5,775.2 1007.5,774.2 1008.5,773.2 1009.5,772.0 1010.5,770.8 1011.5,769.4 1012.5,768.0 1013.5,766.5 1014.5,765.0 1015.5,763.3 1016.5,761.7 1017.5,759.9 1018.5,758.1 1019.5,756.3 1020.5,754.5 1021.5,752.6 1022.5,750.7 1023.5,748.8 1024.5,746.9 1025.5,745.0 1026.5,743.0 1027.5,741.1 1028.5,739.2 1029.5,737.4 1030.5,735.5 1031.5,733.7 1032.5,732.0 1033.5,730.3 1034.5,728.6 1035.5,727.0 1036.5,725.5 1037.5,724.0 1038.5,722.6 1039.5,721.3 1040.5,720.1 1041.5,719.0 1042.5,718.0 1043.5,717.1 1044.5,716.3 1045.5,715.6 1046.5,715.1 1047.5,714.7 1048.5,714.4 1049.5,714.3 1050.5,714.4 1051.5,714.7 1052.5,715.3 1053.5,716.2 1054.5,717.2 1055.5,718.5 1056.5,719.9 1057.5,721.5 1058.5,723.3 1059.5,725.1 1060.5,727.0 1061.5,729.0 1062.5,731.0 1063.5,733.1 1064.5,735.2 1065.5,737.2 1066.5,739.2 1067.5,741.1 1068.5,743.0 1069.5,744.7 1070.5,746.3 1071.5,747.8 1072.5,749.0 1073.5,750.1 1074.5,751.0 1075.5,751.6 1076.5,752.0 1077.5,752.1 1078.5,752.0 1079.5,751.9 1080.5,751.7 1081.5,751.4 1082.5,751.1 1083.5,750.8 1084.5,750.4 1085.5,750.0 1086.5,749.7 1087.5,749.3 1088.5,748.9 1089.5,748.6 1090.5,748.4 1091.5,748.1 1092.5,748.0 1093.5,747.9 1094.5,747.9 1095.5,748.1 1096.5,748.4 1097.5,748.9 1098.5,749.5 1099.5,750.2 1100.5,751.0 1101.5,751.9 1102.5,752.9 1103.5,754.0 1104.5,755.2 1105.5,756.4 1106.5,757.7 1107.5,759.0 1108.5,760.3 1109.5,761.7 1110.5,763.0 1111.5,764.4 1112.5,765.8 1113.5,767.1 1114.5,768.4 1115.5,769.7 1116.5,770.9 1117.5,772.1 1118.5,773.2 1119.5,774.2 1120.5,775.1 1121.5,775.9 1122.5,776.7 1123.5,777.3 1124.5,777.7 1125.5,778.1 1126.5,778.3 1127.5,778.3 1128.5,778.1 1129.5,777.6 1130.5,776.9 1131.5,775.9 1132.5,774.8 1133.5,773.4 1134.5,771.9 1135.5,770.2 1136.5,768.3 1137.5,766.3 1138.5,764.2 1139.5,761.9 1140.5,759.6 1141.5,757.2 1142.5,754.7 1143.5,752.2 1144.5,749.6 1145.5,747.0 1146.5,744.4 1147.5,741.9 1148.5,739.3 1149.5,736.8 1150.5,734.3 1151.5,731.9 1152.5,729.6 1153.5,727.4 1154.5,725.3 1155.5,723.3 1156.5,721.5 1157.5,719.8 1158.5,718.3 1159.5,717.0 1160.5,715.9 1161.5,715.0 1162.5,714.3 1163.5,713.9 1164.5,713.7 1165.5,713.9 1166.5,714.6 1167.5,715.8 1168.5,717.3 1169.5,719.3 1170.5,721.6 1171.5,724.1 1172.5,727.0 1173.5,730.0 1174.5,733.2 1175.5,736.6 1176.5,740.0 1177.5,743.5 1178.5,747.0 1179.5,750.5 1180.5,753.9 1181.5,757.2 1182.5,760.3 1183.5,763.3 1184.5,766.0 1185.5,768.5 1186.5,770.6 1187.5,772.4 1188.5,773.8 1189.5,774.8 1190.5,775.3 1191.5,775.4 1192.5,775.0 1193.5,774.3 1194.5,773.3 1195.5,772.0 1196.5,770.4 1197.5,768.6 1198.5,766.6 1199.5,764.3 1200.5,761.9 1201.5,759.2 1202.5,756.5 1203.5,753.6 1204.5,750.5 1205.5,747.4 1206.5,744.3 1207.5,741.1 1208.5,737.8 1209.5,734.6 1210.5,731.3 1211.5,728.1 1212.5,725.0 1213.5,721.9 1214.5,719.0 1215.5,716.1 1216.5,713.4 1217.5,710.8 1218.5,708.5 1219.5,706.3 1220.5,704.3 1221.5,702.6 1222.5,701.1 1223.5,700.0 1224.5,699.1 1225.5,698.5 1226.5,698.3 1227.5,698.6 1228.5,699.6 1229.5,701.3 1230.5,703.6 1231.5,706.5 1232.5,709.8 1233.5,713.6 1234.5,717.8 1235.5,722.3 1236.5,727.1 1237.5,732.1 1238.5,737.3 1239.5,742.5 1240.5,747.8 1241.5,753.1 1242.5,758.3 1243.5,763.4 1244.5,768.3 1245.5,773.0 1246.5,777.4 1247.5,781.4 1248.5,785.1 1249.5,788.2 1250.5,790.9 1251.5,792.9 1252.5,794.4 1253.5,795.1 1254.5,795.1 1255.5,794.7 1256.5,793.8 1257.5,792.4 1258.5,790.7 1259.5,788.6 1260.5,786.2 1261.5,783.5 1262.5,780.4 1263.5,777.1 1264.5,773.6 1265.5,769.9 1266.5,766.0 1267.5,761.9 1268.5,757.7 1269.5,753.4 1270.5,749.0 1271.5,744.5 1272.5,740.1 1273.5,735.6 1274.5,731.2 1275.5,726.8 1276.5,722.4 1277.5,718.2 1278.5,714.1 1279.5,710.2 1280.5,706.4 1281.5,702.9 1282.5,699.6 1283.5,696.5 1284.5,693.8 1285.5,691.3 1286.5,689.2 1287.5,687.4 1288.5,686.1 1289.5,685.1 1290.5,684.6 1291.5,684.6 1292.5,685.5 1293.5,687.3 1294.5,690.0 1295.5,693.4 1296.5,697.4 1297.5,702.0 1298.5,707.1 1299.5,712.7 1300.5,718.5 1301.5,724.5 1302.5,730.7 1303.5,736.9 1304.0,740.0" fill="none" stroke="#1aa6dd" stroke-width="2.0" stroke-linejoin="round" clip-path="url(#clipd)"/>
<text x="845.4" y="610.6" class="lg">D(+)-Lactose</text>
<line x1="844.8" y1="627.1" x2="886.9" y2="627.1" stroke="#8dd3f1" stroke-width="1.8"/>
<text x="890.5" y="632.7" class="lg">30%</text>
<line x1="844.8" y1="649.8" x2="886.9" y2="649.8" stroke="#1aa6dd" stroke-width="2.1"/>
<text x="890.5" y="655.4" class="lg">50%</text>
<line x1="844.8" y1="672.4" x2="886.9" y2="672.4" stroke="#e895b6" stroke-width="1.8"/>
<text x="890.5" y="678.0" class="lg">70%</text>
</svg></body></html>
